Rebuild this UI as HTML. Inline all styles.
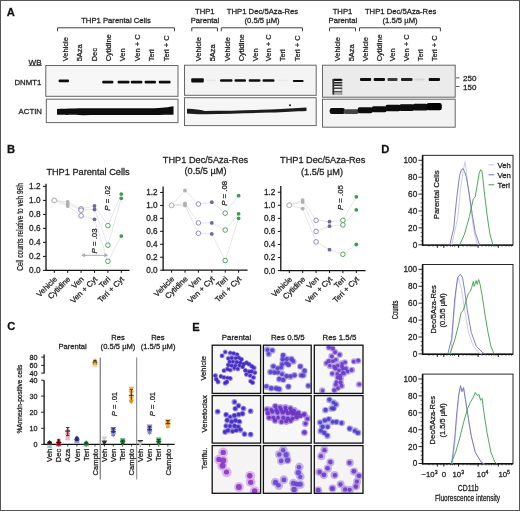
<!DOCTYPE html>
<html><head><meta charset="utf-8"><style>
html,body{margin:0;padding:0;background:#fff;}
svg{display:block;font-family:"Liberation Sans", sans-serif;will-change:transform;}
text{stroke:#2a2a2a;stroke-width:0.28px;paint-order:stroke;}
</style></head><body>
<svg width="520" height="511" viewBox="0 0 520 511">
<defs>
<filter id="bl" x="-20%" y="-50%" width="140%" height="200%"><feGaussianBlur stdDeviation="0.4"/></filter>
<filter id="mb" x="-50%" y="-50%" width="200%" height="200%"><feGaussianBlur stdDeviation="0.3"/></filter>
<filter id="cb" x="-50%" y="-50%" width="200%" height="200%"><feGaussianBlur stdDeviation="0.35"/></filter>
</defs>
<rect width="520" height="511" fill="#fff"/>
<rect x="0.50" y="0.50" width="519.00" height="510.00" fill="none" stroke="#555" stroke-width="1"/>
<text x="6.80" y="16.00" font-size="11.2" text-anchor="start" font-weight="bold" fill="#111">A</text>
<text x="116.00" y="23.00" font-size="7.7" text-anchor="middle" font-weight="normal" fill="#222">THP1 Parental Cells</text>
<polyline points="57.50,31.30 57.50,27.80 174.50,27.80 174.50,31.30" fill="none" stroke="#444" stroke-width="1" stroke-linejoin="round"/>
<text x="204.80" y="13.80" font-size="7.7" text-anchor="middle" font-weight="normal" fill="#222">THP1</text>
<text x="205.00" y="23.00" font-size="7.7" text-anchor="middle" font-weight="normal" fill="#222">Parental</text>
<polyline points="191.80,31.30 191.80,27.80 217.50,27.80 217.50,31.30" fill="none" stroke="#444" stroke-width="1" stroke-linejoin="round"/>
<text x="262.50" y="13.80" font-size="7.7" text-anchor="middle" font-weight="normal" fill="#222">THP1 Dec/5Aza-Res</text>
<text x="262.00" y="23.00" font-size="7.7" text-anchor="middle" font-weight="normal" fill="#222">(0.5/5 µM)</text>
<polyline points="221.30,31.30 221.30,27.80 302.50,27.80 302.50,31.30" fill="none" stroke="#444" stroke-width="1" stroke-linejoin="round"/>
<text x="342.50" y="13.80" font-size="7.7" text-anchor="middle" font-weight="normal" fill="#222">THP1</text>
<text x="342.90" y="23.00" font-size="7.7" text-anchor="middle" font-weight="normal" fill="#222">Parental</text>
<polyline points="329.50,31.30 329.50,27.80 355.50,27.80 355.50,31.30" fill="none" stroke="#444" stroke-width="1" stroke-linejoin="round"/>
<text x="400.60" y="13.80" font-size="7.7" text-anchor="middle" font-weight="normal" fill="#222">THP1 Dec/5Aza-Res</text>
<text x="400.00" y="23.00" font-size="7.7" text-anchor="middle" font-weight="normal" fill="#222">(1.5/5 µM)</text>
<polyline points="359.50,31.30 359.50,27.80 440.40,27.80 440.40,31.30" fill="none" stroke="#444" stroke-width="1" stroke-linejoin="round"/>
<text x="0.00" y="0.00" font-size="7.5" text-anchor="start" font-weight="normal" fill="#222" transform="translate(67.70,61.30) rotate(-90)">Vehicle</text>
<text x="0.00" y="0.00" font-size="7.5" text-anchor="start" font-weight="normal" fill="#222" transform="translate(82.10,61.30) rotate(-90)">5Aza</text>
<text x="0.00" y="0.00" font-size="7.5" text-anchor="start" font-weight="normal" fill="#222" transform="translate(96.50,61.30) rotate(-90)">Dec</text>
<text x="0.00" y="0.00" font-size="7.5" text-anchor="start" font-weight="normal" fill="#222" transform="translate(110.90,61.30) rotate(-90)">Cytidine</text>
<text x="0.00" y="0.00" font-size="7.5" text-anchor="start" font-weight="normal" fill="#222" transform="translate(125.30,61.30) rotate(-90)">Ven</text>
<text x="0.00" y="0.00" font-size="7.5" text-anchor="start" font-weight="normal" fill="#222" transform="translate(139.70,61.30) rotate(-90)">Ven + C</text>
<text x="0.00" y="0.00" font-size="7.5" text-anchor="start" font-weight="normal" fill="#222" transform="translate(154.10,61.30) rotate(-90)">Teri</text>
<text x="0.00" y="0.00" font-size="7.5" text-anchor="start" font-weight="normal" fill="#222" transform="translate(168.50,61.30) rotate(-90)">Teri + C</text>
<text x="0.00" y="0.00" font-size="7.5" text-anchor="start" font-weight="normal" fill="#222" transform="translate(201.45,61.30) rotate(-90)">Vehicle</text>
<text x="0.00" y="0.00" font-size="7.5" text-anchor="start" font-weight="normal" fill="#222" transform="translate(215.20,61.30) rotate(-90)">5Aza</text>
<text x="0.00" y="0.00" font-size="7.5" text-anchor="start" font-weight="normal" fill="#222" transform="translate(229.70,61.30) rotate(-90)">Vehicle</text>
<text x="0.00" y="0.00" font-size="7.5" text-anchor="start" font-weight="normal" fill="#222" transform="translate(243.95,61.30) rotate(-90)">Cytidine</text>
<text x="0.00" y="0.00" font-size="7.5" text-anchor="start" font-weight="normal" fill="#222" transform="translate(257.70,61.30) rotate(-90)">Ven</text>
<text x="0.00" y="0.00" font-size="7.5" text-anchor="start" font-weight="normal" fill="#222" transform="translate(270.70,61.30) rotate(-90)">Ven + C</text>
<text x="0.00" y="0.00" font-size="7.5" text-anchor="start" font-weight="normal" fill="#222" transform="translate(285.20,61.30) rotate(-90)">Teri</text>
<text x="0.00" y="0.00" font-size="7.5" text-anchor="start" font-weight="normal" fill="#222" transform="translate(299.70,61.30) rotate(-90)">Teri + C</text>
<text x="0.00" y="0.00" font-size="7.5" text-anchor="start" font-weight="normal" fill="#222" transform="translate(339.70,61.30) rotate(-90)">Vehicle</text>
<text x="0.00" y="0.00" font-size="7.5" text-anchor="start" font-weight="normal" fill="#222" transform="translate(353.95,61.30) rotate(-90)">5Aza</text>
<text x="0.00" y="0.00" font-size="7.5" text-anchor="start" font-weight="normal" fill="#222" transform="translate(368.20,61.30) rotate(-90)">Vehicle</text>
<text x="0.00" y="0.00" font-size="7.5" text-anchor="start" font-weight="normal" fill="#222" transform="translate(382.20,61.30) rotate(-90)">Cytidine</text>
<text x="0.00" y="0.00" font-size="7.5" text-anchor="start" font-weight="normal" fill="#222" transform="translate(395.20,61.30) rotate(-90)">Ven</text>
<text x="0.00" y="0.00" font-size="7.5" text-anchor="start" font-weight="normal" fill="#222" transform="translate(408.95,61.30) rotate(-90)">Ven + C</text>
<text x="0.00" y="0.00" font-size="7.5" text-anchor="start" font-weight="normal" fill="#222" transform="translate(423.20,61.30) rotate(-90)">Teri</text>
<text x="0.00" y="0.00" font-size="7.5" text-anchor="start" font-weight="normal" fill="#222" transform="translate(436.95,61.30) rotate(-90)">Teri + C</text>
<text x="28.60" y="65.00" font-size="8.1" text-anchor="start" font-weight="normal" fill="#222">WB</text>
<line x1="28.60" y1="65.60" x2="42.00" y2="65.60" stroke="#333" stroke-width="0.8"/>
<text x="41.30" y="84.50" font-size="7.8" text-anchor="end" font-weight="normal" fill="#222">DNMT1</text>
<text x="42.00" y="114.30" font-size="7.8" text-anchor="end" font-weight="normal" fill="#222">ACTIN</text>
<rect x="45.80" y="65.50" width="132.20" height="30.80" fill="#f7f7f7" stroke="#666" stroke-width="1"/>
<rect x="46.30" y="99.20" width="131.70" height="23.40" fill="#fafafa" stroke="#666" stroke-width="1"/>
<rect x="184.50" y="65.20" width="131.70" height="30.10" fill="#f4f4f4" stroke="#666" stroke-width="1"/>
<rect x="184.50" y="97.70" width="131.70" height="27.90" fill="#f6f6f6" stroke="#666" stroke-width="1"/>
<rect x="322.50" y="65.20" width="132.70" height="32.00" fill="#ebebeb" stroke="#666" stroke-width="1"/>
<rect x="322.50" y="99.20" width="132.70" height="28.00" fill="#f3f3f3" stroke="#666" stroke-width="1"/>
<rect x="58.60" y="79.60" width="10.40" height="2.70" rx="1" fill="#111" opacity="1.0" filter="url(#bl)"/>
<rect x="102.20" y="80.80" width="11.20" height="2.60" rx="1" fill="#111" opacity="1.0" filter="url(#bl)"/>
<rect x="117.60" y="80.80" width="11.90" height="2.60" rx="1" fill="#111" opacity="1.0" filter="url(#bl)"/>
<rect x="130.80" y="80.80" width="11.60" height="2.60" rx="1" fill="#111" opacity="1.0" filter="url(#bl)"/>
<rect x="144.60" y="80.80" width="11.40" height="2.60" rx="1" fill="#111" opacity="1.0" filter="url(#bl)"/>
<rect x="158.80" y="80.80" width="11.80" height="2.60" rx="1" fill="#111" opacity="1.0" filter="url(#bl)"/>
<path d="M57,109 C80,107.5 120,108.5 150,108.3 C162,108 170,107 173.5,106.2 L173.5,114.8 C160,115 130,115.2 100,115 C80,115.3 65,115 57,114.8 Z" fill="#0a0a0a" filter="url(#bl)"/>
<rect x="191.20" y="78.20" width="12.60" height="4.20" rx="1" fill="#0a0a0a" opacity="1.0" filter="url(#bl)"/>
<rect x="206.00" y="79.80" width="10.00" height="1.40" rx="1" fill="#bbb" opacity="0.25" filter="url(#bl)"/>
<rect x="220.00" y="79.20" width="12.50" height="2.50" rx="1" fill="#111" opacity="1.0" filter="url(#bl)"/>
<rect x="234.50" y="79.20" width="11.50" height="2.50" rx="1" fill="#111" opacity="1.0" filter="url(#bl)"/>
<rect x="248.70" y="79.20" width="11.80" height="2.50" rx="1" fill="#111" opacity="1.0" filter="url(#bl)"/>
<rect x="262.50" y="79.20" width="12.00" height="2.50" rx="1" fill="#111" opacity="1.0" filter="url(#bl)"/>
<rect x="278.00" y="79.80" width="10.00" height="1.40" rx="1" fill="#bbb" opacity="0.2" filter="url(#bl)"/>
<rect x="292.80" y="80.10" width="10.80" height="1.90" rx="1" fill="#111" opacity="1.0" filter="url(#bl)"/>
<path d="M187,108.8 C193,108.6 199,109.6 205,111 C225,110.8 250,110.3 270,109.6 C285,109 295,108.2 306.5,107.6 L306.5,110.9 C295,111.3 285,111.9 270,112.6 C250,113.2 225,113.8 205,114.3 C198,114.4 192,114 187,113.6 Z" fill="#1a1a1a" filter="url(#bl)"/>
<circle cx="290" cy="105.3" r="1" fill="#111"/>
<rect x="332.6" y="78.8" width="9.8" height="2.20" rx="1.5" fill="#0a0a0a" filter="url(#bl)"/>
<rect x="332.6" y="81.9" width="9.8" height="1.50" rx="1.5" fill="#1a1a1a" filter="url(#bl)"/>
<rect x="332.6" y="84.4" width="9.8" height="1.50" rx="1.5" fill="#2a2a2a" filter="url(#bl)"/>
<rect x="332.6" y="87.4" width="9.8" height="1.50" rx="1.5" fill="#444" filter="url(#bl)"/>
<rect x="332.6" y="91.0" width="9.8" height="1.50" rx="1.5" fill="#555" filter="url(#bl)"/>
<rect x="332.6" y="93.5" width="9.8" height="1.10" rx="1.5" fill="#777" filter="url(#bl)"/>
<rect x="332.4" y="79" width="1.8" height="15.5" fill="#333" filter="url(#bl)"/>
<rect x="340.8" y="79" width="1.6" height="15.5" fill="#555" opacity="0.35" filter="url(#bl)"/>
<rect x="360.00" y="78.10" width="11.20" height="2.80" rx="1" fill="#0a0a0a" opacity="1" filter="url(#bl)"/>
<rect x="373.70" y="78.10" width="11.30" height="2.80" rx="1" fill="#0a0a0a" opacity="1" filter="url(#bl)"/>
<rect x="387.50" y="78.10" width="10.00" height="2.80" rx="1" fill="#0a0a0a" opacity="0.8" filter="url(#bl)"/>
<rect x="401.00" y="78.10" width="11.50" height="2.80" rx="1" fill="#0a0a0a" opacity="0.9" filter="url(#bl)"/>
<rect x="428.70" y="78.10" width="11.30" height="2.80" rx="1" fill="#0a0a0a" opacity="1" filter="url(#bl)"/>
<rect x="414.50" y="78.40" width="10.00" height="2.00" rx="1" fill="#aaa" opacity="0.35" filter="url(#bl)"/>
<rect x="329.70" y="108.00" width="15.2" height="6.00" rx="2.2" fill="#080808" filter="url(#bl)"/>
<rect x="343.60" y="109.30" width="15.2" height="4.60" rx="2.2" fill="#444" filter="url(#bl)"/>
<rect x="357.60" y="107.30" width="15.2" height="6.00" rx="2.2" fill="#0a0a0a" filter="url(#bl)"/>
<rect x="371.60" y="106.30" width="15.2" height="6.00" rx="2.2" fill="#0a0a0a" filter="url(#bl)"/>
<rect x="385.40" y="104.80" width="15.2" height="6.40" rx="2.2" fill="#080808" filter="url(#bl)"/>
<rect x="399.00" y="104.30" width="15.2" height="6.60" rx="2.2" fill="#080808" filter="url(#bl)"/>
<rect x="412.80" y="103.80" width="15.2" height="6.80" rx="2.2" fill="#080808" filter="url(#bl)"/>
<rect x="426.60" y="103.00" width="15.2" height="7.20" rx="2.2" fill="#050505" filter="url(#bl)"/>
<line x1="456.00" y1="77.90" x2="459.50" y2="77.90" stroke="#333" stroke-width="0.8"/>
<line x1="456.00" y1="86.50" x2="459.50" y2="86.50" stroke="#333" stroke-width="0.8"/>
<text x="463.00" y="80.80" font-size="8" text-anchor="start" font-weight="normal" fill="#222">250</text>
<text x="463.00" y="89.60" font-size="8" text-anchor="start" font-weight="normal" fill="#222">150</text>
<text x="7.00" y="152.50" font-size="11.2" text-anchor="start" font-weight="bold" fill="#111">B</text>
<text x="88.00" y="175.00" font-size="9.2" text-anchor="middle" font-weight="normal" fill="#222">THP1 Parental Cells</text>
<line x1="46.00" y1="183.70" x2="46.00" y2="270.90" stroke="#111" stroke-width="1.3"/>
<line x1="45.40" y1="270.40" x2="129.60" y2="270.40" stroke="#111" stroke-width="1.3"/>
<line x1="43.00" y1="270.40" x2="46.00" y2="270.40" stroke="#111" stroke-width="1"/>
<text x="40.50" y="273.30" font-size="8.2" text-anchor="end" font-weight="normal" fill="#222">0.0</text>
<line x1="43.00" y1="256.40" x2="46.00" y2="256.40" stroke="#111" stroke-width="1"/>
<text x="40.50" y="259.30" font-size="8.2" text-anchor="end" font-weight="normal" fill="#222">0.2</text>
<line x1="43.00" y1="242.40" x2="46.00" y2="242.40" stroke="#111" stroke-width="1"/>
<text x="40.50" y="245.30" font-size="8.2" text-anchor="end" font-weight="normal" fill="#222">0.4</text>
<line x1="43.00" y1="228.40" x2="46.00" y2="228.40" stroke="#111" stroke-width="1"/>
<text x="40.50" y="231.30" font-size="8.2" text-anchor="end" font-weight="normal" fill="#222">0.6</text>
<line x1="43.00" y1="214.40" x2="46.00" y2="214.40" stroke="#111" stroke-width="1"/>
<text x="40.50" y="217.30" font-size="8.2" text-anchor="end" font-weight="normal" fill="#222">0.8</text>
<line x1="43.00" y1="200.40" x2="46.00" y2="200.40" stroke="#111" stroke-width="1"/>
<text x="40.50" y="203.30" font-size="8.2" text-anchor="end" font-weight="normal" fill="#222">1.0</text>
<line x1="43.00" y1="186.40" x2="46.00" y2="186.40" stroke="#111" stroke-width="1"/>
<text x="40.50" y="189.30" font-size="8.2" text-anchor="end" font-weight="normal" fill="#222">1.2</text>
<line x1="54.30" y1="270.40" x2="54.30" y2="272.90" stroke="#111" stroke-width="1"/>
<line x1="67.70" y1="270.40" x2="67.70" y2="272.90" stroke="#111" stroke-width="1"/>
<line x1="81.10" y1="270.40" x2="81.10" y2="272.90" stroke="#111" stroke-width="1"/>
<line x1="94.50" y1="270.40" x2="94.50" y2="272.90" stroke="#111" stroke-width="1"/>
<line x1="107.90" y1="270.40" x2="107.90" y2="272.90" stroke="#111" stroke-width="1"/>
<line x1="121.30" y1="270.40" x2="121.30" y2="272.90" stroke="#111" stroke-width="1"/>
<text x="0.00" y="0.00" font-size="7.8" text-anchor="end" font-weight="normal" fill="#222" transform="translate(57.50,279.60) rotate(-45)">Vehicle</text>
<text x="0.00" y="0.00" font-size="7.8" text-anchor="end" font-weight="normal" fill="#222" transform="translate(70.90,279.60) rotate(-45)">Cytidine</text>
<text x="0.00" y="0.00" font-size="7.8" text-anchor="end" font-weight="normal" fill="#222" transform="translate(84.30,279.60) rotate(-45)">Ven</text>
<text x="0.00" y="0.00" font-size="7.8" text-anchor="end" font-weight="normal" fill="#222" transform="translate(97.70,279.60) rotate(-45)">Ven + Cyt</text>
<text x="0.00" y="0.00" font-size="7.8" text-anchor="end" font-weight="normal" fill="#222" transform="translate(111.10,279.60) rotate(-45)">Teri</text>
<text x="0.00" y="0.00" font-size="7.8" text-anchor="end" font-weight="normal" fill="#222" transform="translate(124.50,279.60) rotate(-45)">Teri + Cyt</text>
<polyline points="54.30,200.40 67.70,201.80 81.10,208.80 94.50,206.00 107.90,225.60 121.30,194.10" fill="none" stroke="#dcd8e4" stroke-width="0.7" stroke-linejoin="round"/>
<polyline points="54.30,200.40 67.70,203.90 81.10,210.20 94.50,209.50 107.90,245.20 121.30,198.30" fill="none" stroke="#dcd8e4" stroke-width="0.7" stroke-linejoin="round"/>
<polyline points="54.30,200.40 67.70,206.00 81.10,215.80 94.50,219.30 107.90,261.30 121.30,236.10" fill="none" stroke="#dcd8e4" stroke-width="0.7" stroke-linejoin="round"/>
<circle cx="54.30" cy="200.40" r="2.3" fill="#fff" stroke="#b0b0b0" stroke-width="0.9"/>
<circle cx="54.30" cy="200.40" r="2.3" fill="#fff" stroke="#b0b0b0" stroke-width="0.9"/>
<circle cx="54.30" cy="200.40" r="2.3" fill="#fff" stroke="#b0b0b0" stroke-width="0.9"/>
<circle cx="67.70" cy="201.80" r="1.9" fill="#b0b0b0"/>
<circle cx="67.70" cy="203.90" r="1.9" fill="#b0b0b0"/>
<circle cx="67.70" cy="206.00" r="1.9" fill="#b0b0b0"/>
<circle cx="81.10" cy="208.80" r="2.3" fill="#fff" stroke="#8282c0" stroke-width="0.9"/>
<circle cx="81.10" cy="210.20" r="2.3" fill="#fff" stroke="#8282c0" stroke-width="0.9"/>
<circle cx="81.10" cy="215.80" r="2.3" fill="#fff" stroke="#8282c0" stroke-width="0.9"/>
<circle cx="94.50" cy="206.00" r="1.9" fill="#6a6a9e"/>
<circle cx="94.50" cy="209.50" r="1.9" fill="#6a6a9e"/>
<circle cx="94.50" cy="219.30" r="1.9" fill="#6a6a9e"/>
<circle cx="107.90" cy="225.60" r="2.3" fill="#fff" stroke="#3c9c50" stroke-width="0.9"/>
<circle cx="107.90" cy="245.20" r="2.3" fill="#fff" stroke="#3c9c50" stroke-width="0.9"/>
<circle cx="107.90" cy="261.30" r="2.3" fill="#fff" stroke="#3c9c50" stroke-width="0.9"/>
<circle cx="121.30" cy="194.10" r="1.9" fill="#3c9c50"/>
<circle cx="121.30" cy="198.30" r="1.9" fill="#3c9c50"/>
<circle cx="121.30" cy="236.10" r="1.9" fill="#3c9c50"/>
<text x="0.00" y="0.00" font-size="8.5" text-anchor="start" font-weight="normal" fill="#222" transform="translate(22.60,270.80) rotate(-90) scale(0.77,1)">Cell counts relative to veh 96h</text>
<line x1="83.00" y1="255.30" x2="106.50" y2="255.30" stroke="#aaa" stroke-width="1"/>
<path d="M81.2,255.3 L85,253.3 L85,257.3 Z" fill="#aaa"/>
<path d="M108.2,255.3 L104.4,253.3 L104.4,257.3 Z" fill="#aaa"/>
<text transform="translate(110.40,210.70) rotate(-90)" font-size="7.8" fill="#222"><tspan font-style="italic">P</tspan> = .02</text>
<text transform="translate(97.00,253.40) rotate(-90)" font-size="7.8" fill="#222"><tspan font-style="italic">P</tspan> = .03</text>
<text x="205.50" y="163.20" font-size="9.2" text-anchor="middle" font-weight="normal" fill="#222">THP1 Dec/5Aza-Res</text>
<text x="205.50" y="174.30" font-size="9.2" text-anchor="middle" font-weight="normal" fill="#222">(0.5/5 µM)</text>
<line x1="163.10" y1="186.50" x2="163.10" y2="270.70" stroke="#111" stroke-width="1.3"/>
<line x1="162.50" y1="270.20" x2="247.60" y2="270.20" stroke="#111" stroke-width="1.3"/>
<line x1="160.10" y1="270.20" x2="163.10" y2="270.20" stroke="#111" stroke-width="1"/>
<text x="157.60" y="273.10" font-size="8.2" text-anchor="end" font-weight="normal" fill="#222">0.0</text>
<line x1="160.10" y1="257.24" x2="163.10" y2="257.24" stroke="#111" stroke-width="1"/>
<text x="157.60" y="260.14" font-size="8.2" text-anchor="end" font-weight="normal" fill="#222">0.2</text>
<line x1="160.10" y1="244.28" x2="163.10" y2="244.28" stroke="#111" stroke-width="1"/>
<text x="157.60" y="247.18" font-size="8.2" text-anchor="end" font-weight="normal" fill="#222">0.4</text>
<line x1="160.10" y1="231.32" x2="163.10" y2="231.32" stroke="#111" stroke-width="1"/>
<text x="157.60" y="234.22" font-size="8.2" text-anchor="end" font-weight="normal" fill="#222">0.6</text>
<line x1="160.10" y1="218.36" x2="163.10" y2="218.36" stroke="#111" stroke-width="1"/>
<text x="157.60" y="221.26" font-size="8.2" text-anchor="end" font-weight="normal" fill="#222">0.8</text>
<line x1="160.10" y1="205.40" x2="163.10" y2="205.40" stroke="#111" stroke-width="1"/>
<text x="157.60" y="208.30" font-size="8.2" text-anchor="end" font-weight="normal" fill="#222">1.0</text>
<line x1="160.10" y1="192.44" x2="163.10" y2="192.44" stroke="#111" stroke-width="1"/>
<text x="157.60" y="195.34" font-size="8.2" text-anchor="end" font-weight="normal" fill="#222">1.2</text>
<line x1="171.60" y1="270.20" x2="171.60" y2="272.70" stroke="#111" stroke-width="1"/>
<line x1="185.00" y1="270.20" x2="185.00" y2="272.70" stroke="#111" stroke-width="1"/>
<line x1="198.40" y1="270.20" x2="198.40" y2="272.70" stroke="#111" stroke-width="1"/>
<line x1="211.80" y1="270.20" x2="211.80" y2="272.70" stroke="#111" stroke-width="1"/>
<line x1="225.20" y1="270.20" x2="225.20" y2="272.70" stroke="#111" stroke-width="1"/>
<line x1="238.60" y1="270.20" x2="238.60" y2="272.70" stroke="#111" stroke-width="1"/>
<text x="0.00" y="0.00" font-size="7.8" text-anchor="end" font-weight="normal" fill="#222" transform="translate(174.80,279.40) rotate(-45)">Vehicle</text>
<text x="0.00" y="0.00" font-size="7.8" text-anchor="end" font-weight="normal" fill="#222" transform="translate(188.20,279.40) rotate(-45)">Cytidine</text>
<text x="0.00" y="0.00" font-size="7.8" text-anchor="end" font-weight="normal" fill="#222" transform="translate(201.60,279.40) rotate(-45)">Ven</text>
<text x="0.00" y="0.00" font-size="7.8" text-anchor="end" font-weight="normal" fill="#222" transform="translate(215.00,279.40) rotate(-45)">Ven + Cyt</text>
<text x="0.00" y="0.00" font-size="7.8" text-anchor="end" font-weight="normal" fill="#222" transform="translate(228.40,279.40) rotate(-45)">Teri</text>
<text x="0.00" y="0.00" font-size="7.8" text-anchor="end" font-weight="normal" fill="#222" transform="translate(241.80,279.40) rotate(-45)">Teri + Cyt</text>
<polyline points="171.60,205.40 185.00,190.50 198.40,204.10 211.80,202.16 225.20,213.18 238.60,195.68" fill="none" stroke="#dcd8e4" stroke-width="0.7" stroke-linejoin="round"/>
<polyline points="171.60,205.40 185.00,203.46 198.40,222.90 211.80,222.90 225.20,230.02 238.60,213.82" fill="none" stroke="#dcd8e4" stroke-width="0.7" stroke-linejoin="round"/>
<polyline points="171.60,205.40 185.00,205.40 198.40,233.26 211.80,233.91 225.20,260.48 238.60,218.36" fill="none" stroke="#dcd8e4" stroke-width="0.7" stroke-linejoin="round"/>
<circle cx="171.60" cy="205.40" r="2.3" fill="#fff" stroke="#b0b0b0" stroke-width="0.9"/>
<circle cx="171.60" cy="205.40" r="2.3" fill="#fff" stroke="#b0b0b0" stroke-width="0.9"/>
<circle cx="171.60" cy="205.40" r="2.3" fill="#fff" stroke="#b0b0b0" stroke-width="0.9"/>
<circle cx="185.00" cy="190.50" r="1.9" fill="#b0b0b0"/>
<circle cx="185.00" cy="203.46" r="1.9" fill="#b0b0b0"/>
<circle cx="185.00" cy="205.40" r="1.9" fill="#b0b0b0"/>
<circle cx="198.40" cy="204.10" r="2.3" fill="#fff" stroke="#8282c0" stroke-width="0.9"/>
<circle cx="198.40" cy="222.90" r="2.3" fill="#fff" stroke="#8282c0" stroke-width="0.9"/>
<circle cx="198.40" cy="233.26" r="2.3" fill="#fff" stroke="#8282c0" stroke-width="0.9"/>
<circle cx="211.80" cy="202.16" r="1.9" fill="#6a6a9e"/>
<circle cx="211.80" cy="222.90" r="1.9" fill="#6a6a9e"/>
<circle cx="211.80" cy="233.91" r="1.9" fill="#6a6a9e"/>
<circle cx="225.20" cy="213.18" r="2.3" fill="#fff" stroke="#3c9c50" stroke-width="0.9"/>
<circle cx="225.20" cy="230.02" r="2.3" fill="#fff" stroke="#3c9c50" stroke-width="0.9"/>
<circle cx="225.20" cy="260.48" r="2.3" fill="#fff" stroke="#3c9c50" stroke-width="0.9"/>
<circle cx="238.60" cy="195.68" r="1.9" fill="#3c9c50"/>
<circle cx="238.60" cy="213.82" r="1.9" fill="#3c9c50"/>
<circle cx="238.60" cy="218.36" r="1.9" fill="#3c9c50"/>
<text transform="translate(227.30,205.80) rotate(-90)" font-size="7.8" fill="#222"><tspan font-style="italic">P</tspan> = .08</text>
<text x="322.70" y="163.20" font-size="9.2" text-anchor="middle" font-weight="normal" fill="#222">THP1 Dec/5Aza-Res</text>
<text x="322.00" y="174.50" font-size="9.2" text-anchor="middle" font-weight="normal" fill="#222">(1.5/5 µM)</text>
<line x1="280.80" y1="186.00" x2="280.80" y2="271.10" stroke="#111" stroke-width="1.3"/>
<line x1="280.20" y1="270.60" x2="365.60" y2="270.60" stroke="#111" stroke-width="1.3"/>
<line x1="277.80" y1="270.60" x2="280.80" y2="270.60" stroke="#111" stroke-width="1"/>
<text x="275.30" y="273.50" font-size="8.2" text-anchor="end" font-weight="normal" fill="#222">0.0</text>
<line x1="277.80" y1="257.54" x2="280.80" y2="257.54" stroke="#111" stroke-width="1"/>
<text x="275.30" y="260.44" font-size="8.2" text-anchor="end" font-weight="normal" fill="#222">0.2</text>
<line x1="277.80" y1="244.48" x2="280.80" y2="244.48" stroke="#111" stroke-width="1"/>
<text x="275.30" y="247.38" font-size="8.2" text-anchor="end" font-weight="normal" fill="#222">0.4</text>
<line x1="277.80" y1="231.42" x2="280.80" y2="231.42" stroke="#111" stroke-width="1"/>
<text x="275.30" y="234.32" font-size="8.2" text-anchor="end" font-weight="normal" fill="#222">0.6</text>
<line x1="277.80" y1="218.36" x2="280.80" y2="218.36" stroke="#111" stroke-width="1"/>
<text x="275.30" y="221.26" font-size="8.2" text-anchor="end" font-weight="normal" fill="#222">0.8</text>
<line x1="277.80" y1="205.30" x2="280.80" y2="205.30" stroke="#111" stroke-width="1"/>
<text x="275.30" y="208.20" font-size="8.2" text-anchor="end" font-weight="normal" fill="#222">1.0</text>
<line x1="277.80" y1="192.24" x2="280.80" y2="192.24" stroke="#111" stroke-width="1"/>
<text x="275.30" y="195.14" font-size="8.2" text-anchor="end" font-weight="normal" fill="#222">1.2</text>
<line x1="289.30" y1="270.60" x2="289.30" y2="273.10" stroke="#111" stroke-width="1"/>
<line x1="302.70" y1="270.60" x2="302.70" y2="273.10" stroke="#111" stroke-width="1"/>
<line x1="316.10" y1="270.60" x2="316.10" y2="273.10" stroke="#111" stroke-width="1"/>
<line x1="329.50" y1="270.60" x2="329.50" y2="273.10" stroke="#111" stroke-width="1"/>
<line x1="342.90" y1="270.60" x2="342.90" y2="273.10" stroke="#111" stroke-width="1"/>
<line x1="356.30" y1="270.60" x2="356.30" y2="273.10" stroke="#111" stroke-width="1"/>
<text x="0.00" y="0.00" font-size="7.8" text-anchor="end" font-weight="normal" fill="#222" transform="translate(292.50,279.80) rotate(-45)">Vehicle</text>
<text x="0.00" y="0.00" font-size="7.8" text-anchor="end" font-weight="normal" fill="#222" transform="translate(305.90,279.80) rotate(-45)">Cytidine</text>
<text x="0.00" y="0.00" font-size="7.8" text-anchor="end" font-weight="normal" fill="#222" transform="translate(319.30,279.80) rotate(-45)">Ven</text>
<text x="0.00" y="0.00" font-size="7.8" text-anchor="end" font-weight="normal" fill="#222" transform="translate(332.70,279.80) rotate(-45)">Ven + Cyt</text>
<text x="0.00" y="0.00" font-size="7.8" text-anchor="end" font-weight="normal" fill="#222" transform="translate(346.10,279.80) rotate(-45)">Teri</text>
<text x="0.00" y="0.00" font-size="7.8" text-anchor="end" font-weight="normal" fill="#222" transform="translate(359.50,279.80) rotate(-45)">Teri + Cyt</text>
<polyline points="289.30,205.30 302.70,200.08 316.10,220.32 329.50,221.63 342.90,220.32 356.30,196.81" fill="none" stroke="#dcd8e4" stroke-width="0.7" stroke-linejoin="round"/>
<polyline points="289.30,205.30 302.70,202.04 316.10,231.42 329.50,226.20 342.90,224.89 356.30,209.87" fill="none" stroke="#dcd8e4" stroke-width="0.7" stroke-linejoin="round"/>
<polyline points="289.30,205.30 302.70,208.57 316.10,241.87 329.50,249.70 342.90,254.28 356.30,244.48" fill="none" stroke="#dcd8e4" stroke-width="0.7" stroke-linejoin="round"/>
<circle cx="289.30" cy="205.30" r="2.3" fill="#fff" stroke="#b0b0b0" stroke-width="0.9"/>
<circle cx="289.30" cy="205.30" r="2.3" fill="#fff" stroke="#b0b0b0" stroke-width="0.9"/>
<circle cx="289.30" cy="205.30" r="2.3" fill="#fff" stroke="#b0b0b0" stroke-width="0.9"/>
<circle cx="302.70" cy="200.08" r="1.9" fill="#b0b0b0"/>
<circle cx="302.70" cy="202.04" r="1.9" fill="#b0b0b0"/>
<circle cx="302.70" cy="208.57" r="1.9" fill="#b0b0b0"/>
<circle cx="316.10" cy="220.32" r="2.3" fill="#fff" stroke="#8282c0" stroke-width="0.9"/>
<circle cx="316.10" cy="231.42" r="2.3" fill="#fff" stroke="#8282c0" stroke-width="0.9"/>
<circle cx="316.10" cy="241.87" r="2.3" fill="#fff" stroke="#8282c0" stroke-width="0.9"/>
<circle cx="329.50" cy="221.63" r="1.9" fill="#6a6a9e"/>
<circle cx="329.50" cy="226.20" r="1.9" fill="#6a6a9e"/>
<circle cx="329.50" cy="249.70" r="1.9" fill="#6a6a9e"/>
<circle cx="342.90" cy="220.32" r="2.3" fill="#fff" stroke="#3c9c50" stroke-width="0.9"/>
<circle cx="342.90" cy="224.89" r="2.3" fill="#fff" stroke="#3c9c50" stroke-width="0.9"/>
<circle cx="342.90" cy="254.28" r="2.3" fill="#fff" stroke="#3c9c50" stroke-width="0.9"/>
<circle cx="356.30" cy="196.81" r="1.9" fill="#3c9c50"/>
<circle cx="356.30" cy="209.87" r="1.9" fill="#3c9c50"/>
<circle cx="356.30" cy="244.48" r="1.9" fill="#3c9c50"/>
<text transform="translate(342.90,210.00) rotate(-90)" font-size="7.8" fill="#222"><tspan font-style="italic">P</tspan> = .05</text>
<text x="381.30" y="152.70" font-size="11.2" text-anchor="start" font-weight="bold" fill="#111">D</text>
<rect x="422.60" y="155.30" width="90.40" height="89.80" fill="none" stroke="#111" stroke-width="0.9"/>
<line x1="422.60" y1="155.30" x2="422.60" y2="245.70" stroke="#111" stroke-width="1.6"/>
<line x1="422.00" y1="245.10" x2="513.00" y2="245.10" stroke="#111" stroke-width="1.4"/>
<line x1="418.50" y1="244.80" x2="422.60" y2="244.80" stroke="#111" stroke-width="0.9"/>
<text x="417.20" y="247.70" font-size="8.2" text-anchor="end" font-weight="normal" fill="#222">0</text>
<line x1="418.50" y1="227.90" x2="422.60" y2="227.90" stroke="#111" stroke-width="0.9"/>
<text x="417.20" y="230.80" font-size="8.2" text-anchor="end" font-weight="normal" fill="#222">20</text>
<line x1="418.50" y1="211.00" x2="422.60" y2="211.00" stroke="#111" stroke-width="0.9"/>
<text x="417.20" y="213.90" font-size="8.2" text-anchor="end" font-weight="normal" fill="#222">40</text>
<line x1="418.50" y1="194.10" x2="422.60" y2="194.10" stroke="#111" stroke-width="0.9"/>
<text x="417.20" y="197.00" font-size="8.2" text-anchor="end" font-weight="normal" fill="#222">60</text>
<line x1="418.50" y1="177.20" x2="422.60" y2="177.20" stroke="#111" stroke-width="0.9"/>
<text x="417.20" y="180.10" font-size="8.2" text-anchor="end" font-weight="normal" fill="#222">80</text>
<line x1="418.50" y1="160.30" x2="422.60" y2="160.30" stroke="#111" stroke-width="0.9"/>
<text x="417.20" y="163.20" font-size="8.2" text-anchor="end" font-weight="normal" fill="#222">100</text>
<line x1="420.60" y1="240.88" x2="422.60" y2="240.88" stroke="#111" stroke-width="0.6"/>
<line x1="420.60" y1="236.65" x2="422.60" y2="236.65" stroke="#111" stroke-width="0.6"/>
<line x1="420.60" y1="232.42" x2="422.60" y2="232.42" stroke="#111" stroke-width="0.6"/>
<line x1="420.60" y1="223.97" x2="422.60" y2="223.97" stroke="#111" stroke-width="0.6"/>
<line x1="420.60" y1="219.75" x2="422.60" y2="219.75" stroke="#111" stroke-width="0.6"/>
<line x1="420.60" y1="215.53" x2="422.60" y2="215.53" stroke="#111" stroke-width="0.6"/>
<line x1="420.60" y1="207.07" x2="422.60" y2="207.07" stroke="#111" stroke-width="0.6"/>
<line x1="420.60" y1="202.85" x2="422.60" y2="202.85" stroke="#111" stroke-width="0.6"/>
<line x1="420.60" y1="198.62" x2="422.60" y2="198.62" stroke="#111" stroke-width="0.6"/>
<line x1="420.60" y1="190.18" x2="422.60" y2="190.18" stroke="#111" stroke-width="0.6"/>
<line x1="420.60" y1="185.95" x2="422.60" y2="185.95" stroke="#111" stroke-width="0.6"/>
<line x1="420.60" y1="181.72" x2="422.60" y2="181.72" stroke="#111" stroke-width="0.6"/>
<line x1="420.60" y1="173.27" x2="422.60" y2="173.27" stroke="#111" stroke-width="0.6"/>
<line x1="420.60" y1="169.05" x2="422.60" y2="169.05" stroke="#111" stroke-width="0.6"/>
<line x1="420.60" y1="164.82" x2="422.60" y2="164.82" stroke="#111" stroke-width="0.6"/>
<line x1="429.00" y1="245.10" x2="429.00" y2="246.70" stroke="#111" stroke-width="0.6"/>
<line x1="433.00" y1="245.10" x2="433.00" y2="246.70" stroke="#111" stroke-width="0.6"/>
<line x1="437.30" y1="245.10" x2="437.30" y2="246.70" stroke="#111" stroke-width="0.6"/>
<line x1="441.00" y1="245.10" x2="441.00" y2="246.70" stroke="#111" stroke-width="0.6"/>
<line x1="443.80" y1="245.10" x2="443.80" y2="246.70" stroke="#111" stroke-width="0.6"/>
<line x1="447.00" y1="245.10" x2="447.00" y2="246.70" stroke="#111" stroke-width="0.6"/>
<line x1="450.50" y1="245.10" x2="450.50" y2="246.70" stroke="#111" stroke-width="0.6"/>
<line x1="452.50" y1="245.10" x2="452.50" y2="246.70" stroke="#111" stroke-width="0.6"/>
<line x1="454.50" y1="245.10" x2="454.50" y2="246.70" stroke="#111" stroke-width="0.6"/>
<line x1="458.60" y1="245.10" x2="458.60" y2="246.70" stroke="#111" stroke-width="0.6"/>
<line x1="463.00" y1="245.10" x2="463.00" y2="246.70" stroke="#111" stroke-width="0.6"/>
<line x1="467.00" y1="245.10" x2="467.00" y2="246.70" stroke="#111" stroke-width="0.6"/>
<line x1="470.00" y1="245.10" x2="470.00" y2="246.70" stroke="#111" stroke-width="0.6"/>
<line x1="472.00" y1="245.10" x2="472.00" y2="246.70" stroke="#111" stroke-width="0.6"/>
<line x1="474.00" y1="245.10" x2="474.00" y2="246.70" stroke="#111" stroke-width="0.6"/>
<line x1="476.00" y1="245.10" x2="476.00" y2="246.70" stroke="#111" stroke-width="0.6"/>
<line x1="478.10" y1="245.10" x2="478.10" y2="246.70" stroke="#111" stroke-width="0.6"/>
<line x1="482.00" y1="245.10" x2="482.00" y2="246.70" stroke="#111" stroke-width="0.6"/>
<line x1="486.00" y1="245.10" x2="486.00" y2="246.70" stroke="#111" stroke-width="0.6"/>
<line x1="489.00" y1="245.10" x2="489.00" y2="246.70" stroke="#111" stroke-width="0.6"/>
<line x1="491.50" y1="245.10" x2="491.50" y2="246.70" stroke="#111" stroke-width="0.6"/>
<line x1="494.00" y1="245.10" x2="494.00" y2="246.70" stroke="#111" stroke-width="0.6"/>
<line x1="496.00" y1="245.10" x2="496.00" y2="246.70" stroke="#111" stroke-width="0.6"/>
<line x1="498.30" y1="245.10" x2="498.30" y2="246.70" stroke="#111" stroke-width="0.6"/>
<line x1="502.00" y1="245.10" x2="502.00" y2="246.70" stroke="#111" stroke-width="0.6"/>
<line x1="506.00" y1="245.10" x2="506.00" y2="246.70" stroke="#111" stroke-width="0.6"/>
<line x1="509.00" y1="245.10" x2="509.00" y2="246.70" stroke="#111" stroke-width="0.6"/>
<line x1="511.50" y1="245.10" x2="511.50" y2="246.70" stroke="#111" stroke-width="0.6"/>
<line x1="437.30" y1="245.10" x2="437.30" y2="247.90" stroke="#111" stroke-width="0.9"/>
<line x1="443.80" y1="245.10" x2="443.80" y2="247.90" stroke="#111" stroke-width="0.9"/>
<line x1="458.60" y1="245.10" x2="458.60" y2="247.90" stroke="#111" stroke-width="0.9"/>
<line x1="478.10" y1="245.10" x2="478.10" y2="247.90" stroke="#111" stroke-width="0.9"/>
<line x1="498.30" y1="245.10" x2="498.30" y2="247.90" stroke="#111" stroke-width="0.9"/>
<polyline points="451.70,245.00 457.60,218.50 460.50,189.10 463.10,171.50 465.00,161.70 466.40,171.50 468.40,189.10 471.30,212.60 474.20,232.20 477.20,243.90 479.00,245.00" fill="none" stroke="#c6c6e2" stroke-width="0.9" stroke-linejoin="round"/>
<polyline points="449.80,245.00 453.70,228.30 456.60,198.90 459.60,175.40 461.50,169.60 463.10,168.60 464.50,171.50 466.40,177.40 469.40,195.00 472.30,214.60 475.20,232.20 479.10,243.90 481.00,245.00" fill="none" stroke="#7070bc" stroke-width="0.9" stroke-linejoin="round"/>
<polyline points="459.60,245.00 464.50,234.10 469.40,216.50 473.30,198.90 475.20,197.00 477.20,185.20 479.10,173.50 480.70,169.60 482.10,171.50 484.00,189.10 487.00,214.60 489.90,234.10 492.80,244.50 494.00,245.00" fill="none" stroke="#3c9c48" stroke-width="0.9" stroke-linejoin="round"/>
<line x1="488.50" y1="164.80" x2="494.30" y2="164.80" stroke="#c6c6e2" stroke-width="1"/>
<text x="497.50" y="167.60" font-size="7.8" text-anchor="start" font-weight="normal" fill="#222">Veh</text>
<line x1="488.50" y1="174.80" x2="494.30" y2="174.80" stroke="#7070bc" stroke-width="1"/>
<text x="497.50" y="177.60" font-size="7.8" text-anchor="start" font-weight="normal" fill="#222">Ven</text>
<line x1="488.50" y1="184.80" x2="494.30" y2="184.80" stroke="#3c9c48" stroke-width="1"/>
<text x="497.50" y="187.60" font-size="7.8" text-anchor="start" font-weight="normal" fill="#222">Teri</text>
<text x="0.00" y="0.00" font-size="7.9" text-anchor="start" font-weight="normal" fill="#222" transform="translate(438.90,219.30) rotate(-90)">Parental Cells</text>
<rect x="422.60" y="264.50" width="90.40" height="89.70" fill="none" stroke="#111" stroke-width="0.9"/>
<line x1="422.60" y1="264.50" x2="422.60" y2="354.80" stroke="#111" stroke-width="1.6"/>
<line x1="422.00" y1="354.20" x2="513.00" y2="354.20" stroke="#111" stroke-width="1.4"/>
<line x1="418.50" y1="353.90" x2="422.60" y2="353.90" stroke="#111" stroke-width="0.9"/>
<text x="417.20" y="356.80" font-size="8.2" text-anchor="end" font-weight="normal" fill="#222">0</text>
<line x1="418.50" y1="337.00" x2="422.60" y2="337.00" stroke="#111" stroke-width="0.9"/>
<text x="417.20" y="339.90" font-size="8.2" text-anchor="end" font-weight="normal" fill="#222">20</text>
<line x1="418.50" y1="320.10" x2="422.60" y2="320.10" stroke="#111" stroke-width="0.9"/>
<text x="417.20" y="323.00" font-size="8.2" text-anchor="end" font-weight="normal" fill="#222">40</text>
<line x1="418.50" y1="303.20" x2="422.60" y2="303.20" stroke="#111" stroke-width="0.9"/>
<text x="417.20" y="306.10" font-size="8.2" text-anchor="end" font-weight="normal" fill="#222">60</text>
<line x1="418.50" y1="286.30" x2="422.60" y2="286.30" stroke="#111" stroke-width="0.9"/>
<text x="417.20" y="289.20" font-size="8.2" text-anchor="end" font-weight="normal" fill="#222">80</text>
<line x1="418.50" y1="269.40" x2="422.60" y2="269.40" stroke="#111" stroke-width="0.9"/>
<text x="417.20" y="272.30" font-size="8.2" text-anchor="end" font-weight="normal" fill="#222">100</text>
<line x1="420.60" y1="349.97" x2="422.60" y2="349.97" stroke="#111" stroke-width="0.6"/>
<line x1="420.60" y1="345.75" x2="422.60" y2="345.75" stroke="#111" stroke-width="0.6"/>
<line x1="420.60" y1="341.52" x2="422.60" y2="341.52" stroke="#111" stroke-width="0.6"/>
<line x1="420.60" y1="333.07" x2="422.60" y2="333.07" stroke="#111" stroke-width="0.6"/>
<line x1="420.60" y1="328.85" x2="422.60" y2="328.85" stroke="#111" stroke-width="0.6"/>
<line x1="420.60" y1="324.62" x2="422.60" y2="324.62" stroke="#111" stroke-width="0.6"/>
<line x1="420.60" y1="316.18" x2="422.60" y2="316.18" stroke="#111" stroke-width="0.6"/>
<line x1="420.60" y1="311.95" x2="422.60" y2="311.95" stroke="#111" stroke-width="0.6"/>
<line x1="420.60" y1="307.72" x2="422.60" y2="307.72" stroke="#111" stroke-width="0.6"/>
<line x1="420.60" y1="299.27" x2="422.60" y2="299.27" stroke="#111" stroke-width="0.6"/>
<line x1="420.60" y1="295.05" x2="422.60" y2="295.05" stroke="#111" stroke-width="0.6"/>
<line x1="420.60" y1="290.82" x2="422.60" y2="290.82" stroke="#111" stroke-width="0.6"/>
<line x1="420.60" y1="282.38" x2="422.60" y2="282.38" stroke="#111" stroke-width="0.6"/>
<line x1="420.60" y1="278.15" x2="422.60" y2="278.15" stroke="#111" stroke-width="0.6"/>
<line x1="420.60" y1="273.93" x2="422.60" y2="273.93" stroke="#111" stroke-width="0.6"/>
<line x1="429.00" y1="354.20" x2="429.00" y2="355.80" stroke="#111" stroke-width="0.6"/>
<line x1="433.00" y1="354.20" x2="433.00" y2="355.80" stroke="#111" stroke-width="0.6"/>
<line x1="437.30" y1="354.20" x2="437.30" y2="355.80" stroke="#111" stroke-width="0.6"/>
<line x1="441.00" y1="354.20" x2="441.00" y2="355.80" stroke="#111" stroke-width="0.6"/>
<line x1="443.80" y1="354.20" x2="443.80" y2="355.80" stroke="#111" stroke-width="0.6"/>
<line x1="447.00" y1="354.20" x2="447.00" y2="355.80" stroke="#111" stroke-width="0.6"/>
<line x1="450.50" y1="354.20" x2="450.50" y2="355.80" stroke="#111" stroke-width="0.6"/>
<line x1="452.50" y1="354.20" x2="452.50" y2="355.80" stroke="#111" stroke-width="0.6"/>
<line x1="454.50" y1="354.20" x2="454.50" y2="355.80" stroke="#111" stroke-width="0.6"/>
<line x1="458.60" y1="354.20" x2="458.60" y2="355.80" stroke="#111" stroke-width="0.6"/>
<line x1="463.00" y1="354.20" x2="463.00" y2="355.80" stroke="#111" stroke-width="0.6"/>
<line x1="467.00" y1="354.20" x2="467.00" y2="355.80" stroke="#111" stroke-width="0.6"/>
<line x1="470.00" y1="354.20" x2="470.00" y2="355.80" stroke="#111" stroke-width="0.6"/>
<line x1="472.00" y1="354.20" x2="472.00" y2="355.80" stroke="#111" stroke-width="0.6"/>
<line x1="474.00" y1="354.20" x2="474.00" y2="355.80" stroke="#111" stroke-width="0.6"/>
<line x1="476.00" y1="354.20" x2="476.00" y2="355.80" stroke="#111" stroke-width="0.6"/>
<line x1="478.10" y1="354.20" x2="478.10" y2="355.80" stroke="#111" stroke-width="0.6"/>
<line x1="482.00" y1="354.20" x2="482.00" y2="355.80" stroke="#111" stroke-width="0.6"/>
<line x1="486.00" y1="354.20" x2="486.00" y2="355.80" stroke="#111" stroke-width="0.6"/>
<line x1="489.00" y1="354.20" x2="489.00" y2="355.80" stroke="#111" stroke-width="0.6"/>
<line x1="491.50" y1="354.20" x2="491.50" y2="355.80" stroke="#111" stroke-width="0.6"/>
<line x1="494.00" y1="354.20" x2="494.00" y2="355.80" stroke="#111" stroke-width="0.6"/>
<line x1="496.00" y1="354.20" x2="496.00" y2="355.80" stroke="#111" stroke-width="0.6"/>
<line x1="498.30" y1="354.20" x2="498.30" y2="355.80" stroke="#111" stroke-width="0.6"/>
<line x1="502.00" y1="354.20" x2="502.00" y2="355.80" stroke="#111" stroke-width="0.6"/>
<line x1="506.00" y1="354.20" x2="506.00" y2="355.80" stroke="#111" stroke-width="0.6"/>
<line x1="509.00" y1="354.20" x2="509.00" y2="355.80" stroke="#111" stroke-width="0.6"/>
<line x1="511.50" y1="354.20" x2="511.50" y2="355.80" stroke="#111" stroke-width="0.6"/>
<line x1="437.30" y1="354.20" x2="437.30" y2="357.00" stroke="#111" stroke-width="0.9"/>
<line x1="443.80" y1="354.20" x2="443.80" y2="357.00" stroke="#111" stroke-width="0.9"/>
<line x1="458.60" y1="354.20" x2="458.60" y2="357.00" stroke="#111" stroke-width="0.9"/>
<line x1="478.10" y1="354.20" x2="478.10" y2="357.00" stroke="#111" stroke-width="0.9"/>
<line x1="498.30" y1="354.20" x2="498.30" y2="357.00" stroke="#111" stroke-width="0.9"/>
<polyline points="450.80,354.20 453.70,318.70 456.60,285.40 458.60,277.60 461.50,289.40 464.50,308.90 468.40,332.40 473.30,346.10 479.10,353.00 482.00,354.20" fill="none" stroke="#c6c6e2" stroke-width="0.9" stroke-linejoin="round"/>
<polyline points="447.80,354.20 451.70,338.30 454.70,299.10 457.60,277.60 460.50,274.10 462.50,277.60 464.50,289.40 467.40,310.90 471.30,332.40 476.20,346.10 483.10,353.00 486.00,354.20" fill="none" stroke="#7070bc" stroke-width="0.9" stroke-linejoin="round"/>
<polyline points="449.80,354.20 454.70,340.20 458.60,324.60 461.10,312.80 463.50,309.90 465.40,303.00 468.40,293.30 470.30,291.30 471.70,287.40 473.30,281.50 474.20,286.40 476.20,280.50 477.20,284.50 478.70,279.60 480.10,284.50 482.10,295.20 485.00,314.80 488.00,332.40 490.90,346.10 493.80,353.50 495.00,354.20" fill="none" stroke="#3c9c48" stroke-width="0.9" stroke-linejoin="round"/>
<text x="0.00" y="0.00" font-size="7.5" text-anchor="start" font-weight="normal" fill="#222" transform="translate(435.60,333.60) rotate(-90)">Dec/5Aza-Res</text>
<text x="0.00" y="0.00" font-size="7.5" text-anchor="start" font-weight="normal" fill="#222" transform="translate(444.80,327.50) rotate(-90)">(0.5/5 µM)</text>
<rect x="422.60" y="374.10" width="90.40" height="89.70" fill="none" stroke="#111" stroke-width="0.9"/>
<line x1="422.60" y1="374.10" x2="422.60" y2="464.40" stroke="#111" stroke-width="1.6"/>
<line x1="422.00" y1="463.80" x2="513.00" y2="463.80" stroke="#111" stroke-width="1.4"/>
<line x1="418.50" y1="463.50" x2="422.60" y2="463.50" stroke="#111" stroke-width="0.9"/>
<text x="417.20" y="466.40" font-size="8.2" text-anchor="end" font-weight="normal" fill="#222">0</text>
<line x1="418.50" y1="446.60" x2="422.60" y2="446.60" stroke="#111" stroke-width="0.9"/>
<text x="417.20" y="449.50" font-size="8.2" text-anchor="end" font-weight="normal" fill="#222">20</text>
<line x1="418.50" y1="429.70" x2="422.60" y2="429.70" stroke="#111" stroke-width="0.9"/>
<text x="417.20" y="432.60" font-size="8.2" text-anchor="end" font-weight="normal" fill="#222">40</text>
<line x1="418.50" y1="412.80" x2="422.60" y2="412.80" stroke="#111" stroke-width="0.9"/>
<text x="417.20" y="415.70" font-size="8.2" text-anchor="end" font-weight="normal" fill="#222">60</text>
<line x1="418.50" y1="395.90" x2="422.60" y2="395.90" stroke="#111" stroke-width="0.9"/>
<text x="417.20" y="398.80" font-size="8.2" text-anchor="end" font-weight="normal" fill="#222">80</text>
<line x1="418.50" y1="379.00" x2="422.60" y2="379.00" stroke="#111" stroke-width="0.9"/>
<text x="417.20" y="381.90" font-size="8.2" text-anchor="end" font-weight="normal" fill="#222">100</text>
<line x1="420.60" y1="459.57" x2="422.60" y2="459.57" stroke="#111" stroke-width="0.6"/>
<line x1="420.60" y1="455.35" x2="422.60" y2="455.35" stroke="#111" stroke-width="0.6"/>
<line x1="420.60" y1="451.12" x2="422.60" y2="451.12" stroke="#111" stroke-width="0.6"/>
<line x1="420.60" y1="442.68" x2="422.60" y2="442.68" stroke="#111" stroke-width="0.6"/>
<line x1="420.60" y1="438.45" x2="422.60" y2="438.45" stroke="#111" stroke-width="0.6"/>
<line x1="420.60" y1="434.23" x2="422.60" y2="434.23" stroke="#111" stroke-width="0.6"/>
<line x1="420.60" y1="425.78" x2="422.60" y2="425.78" stroke="#111" stroke-width="0.6"/>
<line x1="420.60" y1="421.55" x2="422.60" y2="421.55" stroke="#111" stroke-width="0.6"/>
<line x1="420.60" y1="417.32" x2="422.60" y2="417.32" stroke="#111" stroke-width="0.6"/>
<line x1="420.60" y1="408.88" x2="422.60" y2="408.88" stroke="#111" stroke-width="0.6"/>
<line x1="420.60" y1="404.65" x2="422.60" y2="404.65" stroke="#111" stroke-width="0.6"/>
<line x1="420.60" y1="400.43" x2="422.60" y2="400.43" stroke="#111" stroke-width="0.6"/>
<line x1="420.60" y1="391.98" x2="422.60" y2="391.98" stroke="#111" stroke-width="0.6"/>
<line x1="420.60" y1="387.75" x2="422.60" y2="387.75" stroke="#111" stroke-width="0.6"/>
<line x1="420.60" y1="383.53" x2="422.60" y2="383.53" stroke="#111" stroke-width="0.6"/>
<line x1="429.00" y1="463.80" x2="429.00" y2="465.40" stroke="#111" stroke-width="0.6"/>
<line x1="433.00" y1="463.80" x2="433.00" y2="465.40" stroke="#111" stroke-width="0.6"/>
<line x1="437.30" y1="463.80" x2="437.30" y2="465.40" stroke="#111" stroke-width="0.6"/>
<line x1="441.00" y1="463.80" x2="441.00" y2="465.40" stroke="#111" stroke-width="0.6"/>
<line x1="443.80" y1="463.80" x2="443.80" y2="465.40" stroke="#111" stroke-width="0.6"/>
<line x1="447.00" y1="463.80" x2="447.00" y2="465.40" stroke="#111" stroke-width="0.6"/>
<line x1="450.50" y1="463.80" x2="450.50" y2="465.40" stroke="#111" stroke-width="0.6"/>
<line x1="452.50" y1="463.80" x2="452.50" y2="465.40" stroke="#111" stroke-width="0.6"/>
<line x1="454.50" y1="463.80" x2="454.50" y2="465.40" stroke="#111" stroke-width="0.6"/>
<line x1="458.60" y1="463.80" x2="458.60" y2="465.40" stroke="#111" stroke-width="0.6"/>
<line x1="463.00" y1="463.80" x2="463.00" y2="465.40" stroke="#111" stroke-width="0.6"/>
<line x1="467.00" y1="463.80" x2="467.00" y2="465.40" stroke="#111" stroke-width="0.6"/>
<line x1="470.00" y1="463.80" x2="470.00" y2="465.40" stroke="#111" stroke-width="0.6"/>
<line x1="472.00" y1="463.80" x2="472.00" y2="465.40" stroke="#111" stroke-width="0.6"/>
<line x1="474.00" y1="463.80" x2="474.00" y2="465.40" stroke="#111" stroke-width="0.6"/>
<line x1="476.00" y1="463.80" x2="476.00" y2="465.40" stroke="#111" stroke-width="0.6"/>
<line x1="478.10" y1="463.80" x2="478.10" y2="465.40" stroke="#111" stroke-width="0.6"/>
<line x1="482.00" y1="463.80" x2="482.00" y2="465.40" stroke="#111" stroke-width="0.6"/>
<line x1="486.00" y1="463.80" x2="486.00" y2="465.40" stroke="#111" stroke-width="0.6"/>
<line x1="489.00" y1="463.80" x2="489.00" y2="465.40" stroke="#111" stroke-width="0.6"/>
<line x1="491.50" y1="463.80" x2="491.50" y2="465.40" stroke="#111" stroke-width="0.6"/>
<line x1="494.00" y1="463.80" x2="494.00" y2="465.40" stroke="#111" stroke-width="0.6"/>
<line x1="496.00" y1="463.80" x2="496.00" y2="465.40" stroke="#111" stroke-width="0.6"/>
<line x1="498.30" y1="463.80" x2="498.30" y2="465.40" stroke="#111" stroke-width="0.6"/>
<line x1="502.00" y1="463.80" x2="502.00" y2="465.40" stroke="#111" stroke-width="0.6"/>
<line x1="506.00" y1="463.80" x2="506.00" y2="465.40" stroke="#111" stroke-width="0.6"/>
<line x1="509.00" y1="463.80" x2="509.00" y2="465.40" stroke="#111" stroke-width="0.6"/>
<line x1="511.50" y1="463.80" x2="511.50" y2="465.40" stroke="#111" stroke-width="0.6"/>
<line x1="437.30" y1="463.80" x2="437.30" y2="466.60" stroke="#111" stroke-width="0.9"/>
<line x1="443.80" y1="463.80" x2="443.80" y2="466.60" stroke="#111" stroke-width="0.9"/>
<line x1="458.60" y1="463.80" x2="458.60" y2="466.60" stroke="#111" stroke-width="0.9"/>
<line x1="478.10" y1="463.80" x2="478.10" y2="466.60" stroke="#111" stroke-width="0.9"/>
<line x1="498.30" y1="463.80" x2="498.30" y2="466.60" stroke="#111" stroke-width="0.9"/>
<polyline points="452.50,463.80 455.20,440.00 457.20,414.00 459.20,393.00 460.90,387.50 462.50,392.00 463.90,388.60 465.80,401.00 468.80,420.00 471.70,437.50 475.60,453.00 481.50,462.50 484.50,463.80" fill="none" stroke="#c6c6e2" stroke-width="0.8" stroke-linejoin="round"/>
<polyline points="451.70,463.80 454.70,438.50 456.60,415.00 458.60,395.40 460.50,385.70 461.90,391.50 463.50,387.60 465.40,399.40 468.40,418.90 471.30,436.50 475.20,452.20 481.10,462.00 484.00,463.80" fill="none" stroke="#7070bc" stroke-width="0.9" stroke-linejoin="round"/>
<polyline points="450.80,463.80 455.70,452.20 459.60,438.50 463.50,422.80 467.40,409.10 470.30,402.30 473.30,397.40 475.20,392.50 477.20,395.40 479.10,394.50 480.50,400.30 482.10,398.40 484.00,413.00 487.00,432.60 490.90,452.20 494.80,462.00 497.00,463.80" fill="none" stroke="#3c9c48" stroke-width="0.9" stroke-linejoin="round"/>
<text x="0.00" y="0.00" font-size="7.5" text-anchor="start" font-weight="normal" fill="#222" transform="translate(435.40,444.40) rotate(-90)">Dec/5Aza-Res</text>
<text x="0.00" y="0.00" font-size="7.5" text-anchor="start" font-weight="normal" fill="#222" transform="translate(444.80,437.50) rotate(-90)">(1.5/5 µM)</text>
<text x="429.50" y="476.50" font-size="7.8" text-anchor="middle" font-weight="normal" fill="#222">−10<tspan font-size="5.2" dy="-3">3</tspan></text>
<text x="443.80" y="476.50" font-size="7.8" text-anchor="middle" font-weight="normal" fill="#222">0</text>
<text x="458.30" y="476.50" font-size="7.8" text-anchor="middle" font-weight="normal" fill="#222">10<tspan font-size="5.2" dy="-3">3</tspan></text>
<text x="482.60" y="476.50" font-size="7.8" text-anchor="middle" font-weight="normal" fill="#222">10<tspan font-size="5.2" dy="-3">4</tspan></text>
<text x="504.20" y="476.50" font-size="7.8" text-anchor="middle" font-weight="normal" fill="#222">10<tspan font-size="5.2" dy="-3">5</tspan></text>
<text x="0.00" y="0.00" font-size="8.4" text-anchor="middle" font-weight="normal" fill="#222" transform="translate(468.20,490.50) scale(0.82,1)">CD11b</text>
<text x="0.00" y="0.00" font-size="8.4" text-anchor="middle" font-weight="normal" fill="#222" transform="translate(467.50,501.00) scale(0.78,1)">Fluorescence intensity</text>
<text x="0.00" y="0.00" font-size="8.4" text-anchor="start" font-weight="normal" fill="#222" transform="translate(398.40,319.20) rotate(-90) scale(0.7,1)">Counts</text>
<text x="7.30" y="330.40" font-size="11.2" text-anchor="start" font-weight="bold" fill="#111">C</text>
<text x="72.60" y="349.30" font-size="7.6" text-anchor="middle" font-weight="normal" fill="#222">Parental</text>
<text x="118.00" y="339.50" font-size="7.6" text-anchor="middle" font-weight="normal" fill="#222">Res</text>
<text x="118.00" y="348.70" font-size="7.6" text-anchor="middle" font-weight="normal" fill="#222">(0.5/5 µM)</text>
<text x="157.90" y="339.50" font-size="7.6" text-anchor="middle" font-weight="normal" fill="#222">Res</text>
<text x="158.10" y="348.70" font-size="7.6" text-anchor="middle" font-weight="normal" fill="#222">(1.5/5 µM)</text>
<line x1="44.10" y1="354.60" x2="44.10" y2="373.60" stroke="#111" stroke-width="1.3"/>
<line x1="44.10" y1="380.20" x2="44.10" y2="444.90" stroke="#111" stroke-width="1.3"/>
<line x1="41.10" y1="357.10" x2="44.10" y2="357.10" stroke="#111" stroke-width="0.9"/>
<text x="37.50" y="359.80" font-size="7.2" text-anchor="end" font-weight="normal" fill="#222">80</text>
<line x1="41.10" y1="365.40" x2="44.10" y2="365.40" stroke="#111" stroke-width="0.9"/>
<text x="37.50" y="368.10" font-size="7.2" text-anchor="end" font-weight="normal" fill="#222">60</text>
<line x1="41.10" y1="373.10" x2="44.10" y2="373.10" stroke="#111" stroke-width="0.9"/>
<text x="37.50" y="375.80" font-size="7.2" text-anchor="end" font-weight="normal" fill="#222">40</text>
<line x1="41.10" y1="380.20" x2="44.10" y2="380.20" stroke="#111" stroke-width="0.9"/>
<text x="37.50" y="382.90" font-size="7.2" text-anchor="end" font-weight="normal" fill="#222">40</text>
<line x1="41.10" y1="396.10" x2="44.10" y2="396.10" stroke="#111" stroke-width="0.9"/>
<text x="37.50" y="398.80" font-size="7.2" text-anchor="end" font-weight="normal" fill="#222">30</text>
<line x1="41.10" y1="412.20" x2="44.10" y2="412.20" stroke="#111" stroke-width="0.9"/>
<text x="37.50" y="414.90" font-size="7.2" text-anchor="end" font-weight="normal" fill="#222">20</text>
<line x1="41.10" y1="428.30" x2="44.10" y2="428.30" stroke="#111" stroke-width="0.9"/>
<text x="37.50" y="431.00" font-size="7.2" text-anchor="end" font-weight="normal" fill="#222">10</text>
<line x1="41.10" y1="444.40" x2="44.10" y2="444.40" stroke="#111" stroke-width="0.9"/>
<text x="37.50" y="447.10" font-size="7.2" text-anchor="end" font-weight="normal" fill="#222">0</text>
<line x1="43.50" y1="444.40" x2="174.60" y2="444.40" stroke="#111" stroke-width="1.3"/>
<line x1="100.30" y1="357.50" x2="100.30" y2="479.50" stroke="#8a8a8a" stroke-width="1.4"/>
<line x1="136.70" y1="357.50" x2="136.70" y2="479.50" stroke="#707070" stroke-width="0.9"/>
<text x="0.00" y="0.00" font-size="7.3" text-anchor="start" font-weight="normal" fill="#222" transform="translate(22.20,433.60) rotate(-90) scale(0.9,1)">%Annexin-positive cells</text>
<text x="0.00" y="0.00" font-size="7.6" text-anchor="end" font-weight="normal" fill="#222" transform="translate(52.30,448.80) rotate(-90)">Veh</text>
<text x="0.00" y="0.00" font-size="7.6" text-anchor="end" font-weight="normal" fill="#222" transform="translate(61.40,448.80) rotate(-90)">Dec</text>
<text x="0.00" y="0.00" font-size="7.6" text-anchor="end" font-weight="normal" fill="#222" transform="translate(70.40,448.80) rotate(-90)">Aza</text>
<text x="0.00" y="0.00" font-size="7.6" text-anchor="end" font-weight="normal" fill="#222" transform="translate(79.60,448.80) rotate(-90)">Ven</text>
<text x="0.00" y="0.00" font-size="7.6" text-anchor="end" font-weight="normal" fill="#222" transform="translate(88.90,448.80) rotate(-90)">Teri</text>
<text x="0.00" y="0.00" font-size="7.6" text-anchor="end" font-weight="normal" fill="#222" transform="translate(97.70,448.80) rotate(-90)">Campto</text>
<text x="0.00" y="0.00" font-size="7.6" text-anchor="end" font-weight="normal" fill="#222" transform="translate(107.10,448.80) rotate(-90)">Veh</text>
<text x="0.00" y="0.00" font-size="7.6" text-anchor="end" font-weight="normal" fill="#222" transform="translate(116.00,448.80) rotate(-90)">Ven</text>
<text x="0.00" y="0.00" font-size="7.6" text-anchor="end" font-weight="normal" fill="#222" transform="translate(125.40,448.80) rotate(-90)">Teri</text>
<text x="0.00" y="0.00" font-size="7.6" text-anchor="end" font-weight="normal" fill="#222" transform="translate(134.30,448.80) rotate(-90)">Campto</text>
<text x="0.00" y="0.00" font-size="7.6" text-anchor="end" font-weight="normal" fill="#222" transform="translate(143.10,448.80) rotate(-90)">Veh</text>
<text x="0.00" y="0.00" font-size="7.6" text-anchor="end" font-weight="normal" fill="#222" transform="translate(152.30,448.80) rotate(-90)">Ven</text>
<text x="0.00" y="0.00" font-size="7.6" text-anchor="end" font-weight="normal" fill="#222" transform="translate(161.40,448.80) rotate(-90)">Teri</text>
<text x="0.00" y="0.00" font-size="7.6" text-anchor="end" font-weight="normal" fill="#222" transform="translate(170.60,448.80) rotate(-90)">Campto</text>
<line x1="49.60" y1="444.40" x2="49.60" y2="446.60" stroke="#111" stroke-width="0.8"/>
<line x1="58.70" y1="444.40" x2="58.70" y2="446.60" stroke="#111" stroke-width="0.8"/>
<line x1="67.70" y1="444.40" x2="67.70" y2="446.60" stroke="#111" stroke-width="0.8"/>
<line x1="76.90" y1="444.40" x2="76.90" y2="446.60" stroke="#111" stroke-width="0.8"/>
<line x1="86.20" y1="444.40" x2="86.20" y2="446.60" stroke="#111" stroke-width="0.8"/>
<line x1="95.00" y1="444.40" x2="95.00" y2="446.60" stroke="#111" stroke-width="0.8"/>
<line x1="104.40" y1="444.40" x2="104.40" y2="446.60" stroke="#111" stroke-width="0.8"/>
<line x1="113.30" y1="444.40" x2="113.30" y2="446.60" stroke="#111" stroke-width="0.8"/>
<line x1="122.70" y1="444.40" x2="122.70" y2="446.60" stroke="#111" stroke-width="0.8"/>
<line x1="131.60" y1="444.40" x2="131.60" y2="446.60" stroke="#111" stroke-width="0.8"/>
<line x1="140.40" y1="444.40" x2="140.40" y2="446.60" stroke="#111" stroke-width="0.8"/>
<line x1="149.60" y1="444.40" x2="149.60" y2="446.60" stroke="#111" stroke-width="0.8"/>
<line x1="158.70" y1="444.40" x2="158.70" y2="446.60" stroke="#111" stroke-width="0.8"/>
<line x1="167.90" y1="444.40" x2="167.90" y2="446.60" stroke="#111" stroke-width="0.8"/>
<path d="M46.70,448.19 L52.50,448.19 L49.60,443.25 Z" fill="#70c8c8" opacity="0.85" filter="url(#mb)"/>
<path d="M46.70,445.61 L52.50,445.61 L49.60,440.68 Z" fill="#f0b0c8" opacity="0.85" filter="url(#mb)"/>
<path d="M46.70,446.25 L52.50,446.25 L49.60,441.32 Z" fill="#f0b0c8" opacity="0.85" filter="url(#mb)"/>
<path d="M46.70,444.64 L52.50,444.64 L49.60,439.71 Z" fill="#111" opacity="0.85" filter="url(#mb)"/>
<line x1="49.60" y1="443.76" x2="49.60" y2="441.50" stroke="#222" stroke-width="0.9"/>
<line x1="47.80" y1="443.76" x2="51.40" y2="443.76" stroke="#222" stroke-width="0.9"/>
<line x1="47.80" y1="441.50" x2="51.40" y2="441.50" stroke="#222" stroke-width="0.9"/>
<line x1="47.20" y1="442.63" x2="52.00" y2="442.63" stroke="#222" stroke-width="1.0"/>
<path d="M55.80,443.03 L61.60,443.03 L58.70,438.10 Z" fill="#c8103c" opacity="0.85" filter="url(#mb)"/>
<path d="M55.80,444.96 L61.60,444.96 L58.70,440.03 Z" fill="#c8103c" opacity="0.85" filter="url(#mb)"/>
<path d="M55.80,446.25 L61.60,446.25 L58.70,441.32 Z" fill="#c8103c" opacity="0.85" filter="url(#mb)"/>
<line x1="58.70" y1="444.08" x2="58.70" y2="439.89" stroke="#500" stroke-width="0.9"/>
<line x1="56.90" y1="444.08" x2="60.50" y2="444.08" stroke="#500" stroke-width="0.9"/>
<line x1="56.90" y1="439.89" x2="60.50" y2="439.89" stroke="#500" stroke-width="0.9"/>
<line x1="56.30" y1="442.47" x2="61.10" y2="442.47" stroke="#500" stroke-width="1.0"/>
<path d="M64.80,437.72 L70.60,437.72 L67.70,432.79 Z" fill="#f0a8b8" opacity="0.85" filter="url(#mb)"/>
<path d="M64.80,440.13 L70.60,440.13 L67.70,435.20 Z" fill="#f0a8b8" opacity="0.85" filter="url(#mb)"/>
<path d="M64.80,432.08 L70.60,432.08 L67.70,427.15 Z" fill="#c87890" opacity="0.85" filter="url(#mb)"/>
<path d="M64.80,434.50 L70.60,434.50 L67.70,429.57 Z" fill="#c87890" opacity="0.85" filter="url(#mb)"/>
<line x1="67.70" y1="435.54" x2="67.70" y2="427.50" stroke="#402020" stroke-width="0.9"/>
<line x1="65.90" y1="435.54" x2="69.50" y2="435.54" stroke="#402020" stroke-width="0.9"/>
<line x1="65.90" y1="427.50" x2="69.50" y2="427.50" stroke="#402020" stroke-width="0.9"/>
<line x1="65.30" y1="431.04" x2="70.10" y2="431.04" stroke="#402020" stroke-width="1.0"/>
<path d="M74.00,441.75 L79.80,441.75 L76.90,436.81 Z" fill="#8888d0" opacity="0.85" filter="url(#mb)"/>
<path d="M74.00,443.35 L79.80,443.35 L76.90,438.42 Z" fill="#8888d0" opacity="0.85" filter="url(#mb)"/>
<path d="M74.00,440.13 L79.80,440.13 L76.90,435.20 Z" fill="#303088" opacity="0.85" filter="url(#mb)"/>
<line x1="76.90" y1="440.54" x2="76.90" y2="437.32" stroke="#202060" stroke-width="0.9"/>
<line x1="75.10" y1="440.54" x2="78.70" y2="440.54" stroke="#202060" stroke-width="0.9"/>
<line x1="75.10" y1="437.32" x2="78.70" y2="437.32" stroke="#202060" stroke-width="0.9"/>
<line x1="74.50" y1="438.93" x2="79.30" y2="438.93" stroke="#202060" stroke-width="1.0"/>
<path d="M83.30,444.64 L89.10,444.64 L86.20,439.71 Z" fill="#3a9a50" opacity="0.85" filter="url(#mb)"/>
<path d="M83.30,446.25 L89.10,446.25 L86.20,441.32 Z" fill="#3a9a50" opacity="0.85" filter="url(#mb)"/>
<line x1="86.20" y1="444.08" x2="86.20" y2="442.15" stroke="#104018" stroke-width="0.9"/>
<line x1="84.40" y1="444.08" x2="88.00" y2="444.08" stroke="#104018" stroke-width="0.9"/>
<line x1="84.40" y1="442.15" x2="88.00" y2="442.15" stroke="#104018" stroke-width="0.9"/>
<line x1="83.80" y1="443.11" x2="88.60" y2="443.11" stroke="#104018" stroke-width="1.0"/>
<path d="M92.10,363.28 L97.90,363.28 L95.00,358.35 Z" fill="#f0a030" opacity="0.85" filter="url(#mb)"/>
<path d="M92.10,364.88 L97.90,364.88 L95.00,359.95 Z" fill="#f0a030" opacity="0.85" filter="url(#mb)"/>
<line x1="95.00" y1="363.90" x2="95.00" y2="360.30" stroke="#402000" stroke-width="0.9"/>
<line x1="93.20" y1="363.90" x2="96.80" y2="363.90" stroke="#402000" stroke-width="0.9"/>
<line x1="93.20" y1="360.30" x2="96.80" y2="360.30" stroke="#402000" stroke-width="0.9"/>
<line x1="92.60" y1="362.10" x2="97.40" y2="362.10" stroke="#402000" stroke-width="1.0"/>
<path d="M92.10,366.48 L97.90,366.48 L95.00,361.55 Z" fill="#f8c070" opacity="0.85" filter="url(#mb)"/>
<path d="M101.50,436.59 L107.30,436.59 L104.40,441.52 Z" fill="#c8c8c8" opacity="0.85" filter="url(#mb)"/>
<path d="M101.50,440.61 L107.30,440.61 L104.40,445.54 Z" fill="#111" opacity="0.85" filter="url(#mb)"/>
<path d="M110.40,426.93 L116.20,426.93 L113.30,431.86 Z" fill="#6868c0" opacity="0.85" filter="url(#mb)"/>
<path d="M110.40,429.02 L116.20,429.02 L113.30,433.95 Z" fill="#6868c0" opacity="0.85" filter="url(#mb)"/>
<path d="M110.40,430.95 L116.20,430.95 L113.30,435.88 Z" fill="#6868c0" opacity="0.85" filter="url(#mb)"/>
<line x1="113.30" y1="435.54" x2="113.30" y2="428.30" stroke="#202060" stroke-width="0.9"/>
<line x1="111.50" y1="435.54" x2="115.10" y2="435.54" stroke="#202060" stroke-width="0.9"/>
<line x1="111.50" y1="428.30" x2="115.10" y2="428.30" stroke="#202060" stroke-width="0.9"/>
<line x1="110.90" y1="431.84" x2="115.70" y2="431.84" stroke="#202060" stroke-width="1.0"/>
<path d="M110.40,432.89 L116.20,432.89 L113.30,437.82 Z" fill="#9090d0" opacity="0.85" filter="url(#mb)"/>
<path d="M119.80,438.20 L125.60,438.20 L122.70,443.13 Z" fill="#3aa050" opacity="0.85" filter="url(#mb)"/>
<path d="M119.80,439.81 L125.60,439.81 L122.70,444.74 Z" fill="#3aa050" opacity="0.85" filter="url(#mb)"/>
<path d="M119.80,440.94 L125.60,440.94 L122.70,445.87 Z" fill="#3aa050" opacity="0.85" filter="url(#mb)"/>
<line x1="122.70" y1="443.43" x2="122.70" y2="440.21" stroke="#104018" stroke-width="0.9"/>
<line x1="120.90" y1="443.43" x2="124.50" y2="443.43" stroke="#104018" stroke-width="0.9"/>
<line x1="120.90" y1="440.21" x2="124.50" y2="440.21" stroke="#104018" stroke-width="0.9"/>
<line x1="120.30" y1="441.82" x2="125.10" y2="441.82" stroke="#104018" stroke-width="1.0"/>
<path d="M128.40,386.68 L134.20,386.68 L131.30,391.61 Z" fill="#f0a020" opacity="0.85" filter="url(#mb)"/>
<path d="M128.40,390.70 L134.20,390.70 L131.30,395.63 Z" fill="#f0a020" opacity="0.85" filter="url(#mb)"/>
<path d="M128.40,396.34 L134.20,396.34 L131.30,401.27 Z" fill="#f0a020" opacity="0.85" filter="url(#mb)"/>
<line x1="131.30" y1="401.73" x2="131.30" y2="389.66" stroke="#402000" stroke-width="0.9"/>
<line x1="129.50" y1="401.73" x2="133.10" y2="401.73" stroke="#402000" stroke-width="0.9"/>
<line x1="129.50" y1="389.66" x2="133.10" y2="389.66" stroke="#402000" stroke-width="0.9"/>
<line x1="128.90" y1="395.29" x2="133.70" y2="395.29" stroke="#402000" stroke-width="1.0"/>
<path d="M128.40,399.56 L134.20,399.56 L131.30,404.49 Z" fill="#e89010" opacity="0.85" filter="url(#mb)"/>
<path d="M137.50,439.97 L143.30,439.97 L140.40,444.90 Z" fill="#111" opacity="0.85" filter="url(#mb)"/>
<path d="M137.50,441.58 L143.30,441.58 L140.40,446.51 Z" fill="#d8d8d8" opacity="0.85" filter="url(#mb)"/>
<path d="M146.70,424.51 L152.50,424.51 L149.60,429.44 Z" fill="#6a6ac0" opacity="0.85" filter="url(#mb)"/>
<path d="M146.70,426.77 L152.50,426.77 L149.60,431.70 Z" fill="#6a6ac0" opacity="0.85" filter="url(#mb)"/>
<path d="M146.70,428.70 L152.50,428.70 L149.60,433.63 Z" fill="#6a6ac0" opacity="0.85" filter="url(#mb)"/>
<line x1="149.60" y1="433.13" x2="149.60" y2="426.69" stroke="#202060" stroke-width="0.9"/>
<line x1="147.80" y1="433.13" x2="151.40" y2="433.13" stroke="#202060" stroke-width="0.9"/>
<line x1="147.80" y1="426.69" x2="151.40" y2="426.69" stroke="#202060" stroke-width="0.9"/>
<line x1="147.20" y1="429.91" x2="152.00" y2="429.91" stroke="#202060" stroke-width="1.0"/>
<path d="M146.70,430.63 L152.50,430.63 L149.60,435.56 Z" fill="#8888d0" opacity="0.85" filter="url(#mb)"/>
<path d="M155.80,437.39 L161.60,437.39 L158.70,442.32 Z" fill="#3aa050" opacity="0.85" filter="url(#mb)"/>
<path d="M155.80,439.33 L161.60,439.33 L158.70,444.26 Z" fill="#3aa050" opacity="0.85" filter="url(#mb)"/>
<path d="M155.80,441.26 L161.60,441.26 L158.70,446.19 Z" fill="#3aa050" opacity="0.85" filter="url(#mb)"/>
<line x1="158.70" y1="443.11" x2="158.70" y2="439.57" stroke="#104018" stroke-width="0.9"/>
<line x1="156.90" y1="443.11" x2="160.50" y2="443.11" stroke="#104018" stroke-width="0.9"/>
<line x1="156.90" y1="439.57" x2="160.50" y2="439.57" stroke="#104018" stroke-width="0.9"/>
<line x1="156.30" y1="441.34" x2="161.10" y2="441.34" stroke="#104018" stroke-width="1.0"/>
<path d="M165.00,419.20 L170.80,419.20 L167.90,424.13 Z" fill="#f0a020" opacity="0.85" filter="url(#mb)"/>
<path d="M165.00,420.65 L170.80,420.65 L167.90,425.58 Z" fill="#f0a020" opacity="0.85" filter="url(#mb)"/>
<path d="M165.00,422.58 L170.80,422.58 L167.90,427.51 Z" fill="#f0a020" opacity="0.85" filter="url(#mb)"/>
<line x1="167.90" y1="427.01" x2="167.90" y2="420.57" stroke="#402000" stroke-width="0.9"/>
<line x1="166.10" y1="427.01" x2="169.70" y2="427.01" stroke="#402000" stroke-width="0.9"/>
<line x1="166.10" y1="420.57" x2="169.70" y2="420.57" stroke="#402000" stroke-width="0.9"/>
<line x1="165.50" y1="423.79" x2="170.30" y2="423.79" stroke="#402000" stroke-width="1.0"/>
<path d="M165.00,424.35 L170.80,424.35 L167.90,429.28 Z" fill="#f8b040" opacity="0.85" filter="url(#mb)"/>
<text transform="translate(116.50,416.20) rotate(-90)" font-size="7.6" fill="#222"><tspan font-style="italic">P</tspan> = .01</text>
<text transform="translate(154.50,416.20) rotate(-90)" font-size="7.6" fill="#222"><tspan font-style="italic">P</tspan> = .01</text>
<text x="192.30" y="330.60" font-size="11.2" text-anchor="start" font-weight="bold" fill="#111">E</text>
<text x="236.50" y="340.40" font-size="7.9" text-anchor="middle" font-weight="normal" fill="#222">Parental</text>
<text x="287.80" y="340.40" font-size="7.9" text-anchor="middle" font-weight="normal" fill="#222">Res 0.5/5</text>
<text x="339.40" y="340.40" font-size="7.9" text-anchor="middle" font-weight="normal" fill="#222">Res 1.5/5</text>
<text x="0.00" y="0.00" font-size="7.6" text-anchor="start" font-weight="normal" fill="#222" transform="translate(205.60,380.60) rotate(-90)">Vehicle</text>
<text x="0.00" y="0.00" font-size="7.6" text-anchor="start" font-weight="normal" fill="#222" transform="translate(207.00,432.40) rotate(-90)">Venetoclax</text>
<text x="0.00" y="0.00" font-size="7.4" text-anchor="start" font-weight="normal" fill="#222" transform="translate(207.00,469.50) rotate(-90)">Teriflu.</text>
<clipPath id="c00"><rect x="212.20" y="345.20" width="48.40" height="48.20"/></clipPath>
<rect x="212.20" y="345.20" width="48.40" height="48.20" fill="#f8f7f7" stroke="none" stroke-width="1"/>
<g clip-path="url(#c00)">
<circle cx="222.16" cy="355.67" r="2.51" fill="#8070d8" opacity="0.85" stroke="#fff" stroke-width="0.25" stroke-opacity="0.6" filter="url(#cb)"/>
<circle cx="225.22" cy="352.11" r="2.51" fill="#8070d8" opacity="0.85" stroke="#fff" stroke-width="0.25" stroke-opacity="0.6" filter="url(#cb)"/>
<circle cx="230.30" cy="353.13" r="2.51" fill="#8070d8" opacity="0.85" stroke="#fff" stroke-width="0.25" stroke-opacity="0.6" filter="url(#cb)"/>
<circle cx="233.86" cy="353.64" r="2.51" fill="#8070d8" opacity="0.85" stroke="#fff" stroke-width="0.25" stroke-opacity="0.6" filter="url(#cb)"/>
<circle cx="236.91" cy="354.66" r="2.51" fill="#8070d8" opacity="0.85" stroke="#fff" stroke-width="0.25" stroke-opacity="0.6" filter="url(#cb)"/>
<circle cx="228.27" cy="358.22" r="2.51" fill="#8070d8" opacity="0.85" stroke="#fff" stroke-width="0.25" stroke-opacity="0.6" filter="url(#cb)"/>
<circle cx="231.82" cy="357.71" r="2.51" fill="#8070d8" opacity="0.85" stroke="#fff" stroke-width="0.25" stroke-opacity="0.6" filter="url(#cb)"/>
<circle cx="235.38" cy="358.22" r="2.51" fill="#8070d8" opacity="0.85" stroke="#fff" stroke-width="0.25" stroke-opacity="0.6" filter="url(#cb)"/>
<circle cx="238.94" cy="357.71" r="2.51" fill="#8070d8" opacity="0.85" stroke="#fff" stroke-width="0.25" stroke-opacity="0.6" filter="url(#cb)"/>
<circle cx="241.48" cy="359.23" r="2.51" fill="#8070d8" opacity="0.85" stroke="#fff" stroke-width="0.25" stroke-opacity="0.6" filter="url(#cb)"/>
<circle cx="229.79" cy="361.77" r="2.51" fill="#8070d8" opacity="0.85" stroke="#fff" stroke-width="0.25" stroke-opacity="0.6" filter="url(#cb)"/>
<circle cx="233.35" cy="361.77" r="2.51" fill="#8070d8" opacity="0.85" stroke="#fff" stroke-width="0.25" stroke-opacity="0.6" filter="url(#cb)"/>
<circle cx="236.91" cy="362.28" r="2.51" fill="#8070d8" opacity="0.85" stroke="#fff" stroke-width="0.25" stroke-opacity="0.6" filter="url(#cb)"/>
<circle cx="240.47" cy="362.79" r="2.51" fill="#8070d8" opacity="0.85" stroke="#fff" stroke-width="0.25" stroke-opacity="0.6" filter="url(#cb)"/>
<circle cx="243.52" cy="364.32" r="2.51" fill="#8070d8" opacity="0.85" stroke="#fff" stroke-width="0.25" stroke-opacity="0.6" filter="url(#cb)"/>
<circle cx="228.27" cy="364.82" r="2.51" fill="#8070d8" opacity="0.85" stroke="#fff" stroke-width="0.25" stroke-opacity="0.6" filter="url(#cb)"/>
<circle cx="231.82" cy="365.33" r="2.51" fill="#8070d8" opacity="0.85" stroke="#fff" stroke-width="0.25" stroke-opacity="0.6" filter="url(#cb)"/>
<circle cx="235.38" cy="365.33" r="2.51" fill="#8070d8" opacity="0.85" stroke="#fff" stroke-width="0.25" stroke-opacity="0.6" filter="url(#cb)"/>
<circle cx="239.45" cy="365.84" r="2.51" fill="#8070d8" opacity="0.85" stroke="#fff" stroke-width="0.25" stroke-opacity="0.6" filter="url(#cb)"/>
<circle cx="242.50" cy="366.86" r="2.51" fill="#8070d8" opacity="0.85" stroke="#fff" stroke-width="0.25" stroke-opacity="0.6" filter="url(#cb)"/>
<circle cx="246.57" cy="362.79" r="2.51" fill="#8070d8" opacity="0.85" stroke="#fff" stroke-width="0.25" stroke-opacity="0.6" filter="url(#cb)"/>
<circle cx="249.11" cy="364.32" r="2.51" fill="#8070d8" opacity="0.85" stroke="#fff" stroke-width="0.25" stroke-opacity="0.6" filter="url(#cb)"/>
<circle cx="251.65" cy="366.35" r="2.51" fill="#8070d8" opacity="0.85" stroke="#fff" stroke-width="0.25" stroke-opacity="0.6" filter="url(#cb)"/>
<circle cx="254.19" cy="367.87" r="2.51" fill="#8070d8" opacity="0.85" stroke="#fff" stroke-width="0.25" stroke-opacity="0.6" filter="url(#cb)"/>
<circle cx="227.25" cy="368.89" r="2.51" fill="#8070d8" opacity="0.85" stroke="#fff" stroke-width="0.25" stroke-opacity="0.6" filter="url(#cb)"/>
<circle cx="230.30" cy="369.91" r="2.51" fill="#8070d8" opacity="0.85" stroke="#fff" stroke-width="0.25" stroke-opacity="0.6" filter="url(#cb)"/>
<circle cx="234.37" cy="368.38" r="2.51" fill="#8070d8" opacity="0.85" stroke="#fff" stroke-width="0.25" stroke-opacity="0.6" filter="url(#cb)"/>
<circle cx="224.20" cy="370.42" r="2.51" fill="#8070d8" opacity="0.85" stroke="#fff" stroke-width="0.25" stroke-opacity="0.6" filter="url(#cb)"/>
<circle cx="237.93" cy="368.89" r="2.51" fill="#8070d8" opacity="0.85" stroke="#fff" stroke-width="0.25" stroke-opacity="0.6" filter="url(#cb)"/>
<circle cx="245.55" cy="370.42" r="2.51" fill="#8070d8" opacity="0.85" stroke="#fff" stroke-width="0.25" stroke-opacity="0.6" filter="url(#cb)"/>
<circle cx="248.60" cy="371.43" r="2.51" fill="#8070d8" opacity="0.85" stroke="#fff" stroke-width="0.25" stroke-opacity="0.6" filter="url(#cb)"/>
<circle cx="251.65" cy="371.43" r="2.51" fill="#8070d8" opacity="0.85" stroke="#fff" stroke-width="0.25" stroke-opacity="0.6" filter="url(#cb)"/>
<circle cx="254.70" cy="372.45" r="2.51" fill="#8070d8" opacity="0.85" stroke="#fff" stroke-width="0.25" stroke-opacity="0.6" filter="url(#cb)"/>
<circle cx="246.57" cy="374.48" r="2.51" fill="#8070d8" opacity="0.85" stroke="#fff" stroke-width="0.25" stroke-opacity="0.6" filter="url(#cb)"/>
<circle cx="250.13" cy="375.50" r="2.51" fill="#8070d8" opacity="0.85" stroke="#fff" stroke-width="0.25" stroke-opacity="0.6" filter="url(#cb)"/>
<circle cx="253.69" cy="377.53" r="2.51" fill="#8070d8" opacity="0.85" stroke="#fff" stroke-width="0.25" stroke-opacity="0.6" filter="url(#cb)"/>
<circle cx="250.64" cy="381.09" r="2.51" fill="#8070d8" opacity="0.85" stroke="#fff" stroke-width="0.25" stroke-opacity="0.6" filter="url(#cb)"/>
<circle cx="252.67" cy="382.62" r="2.51" fill="#8070d8" opacity="0.85" stroke="#fff" stroke-width="0.25" stroke-opacity="0.6" filter="url(#cb)"/>
<circle cx="215.56" cy="375.50" r="2.51" fill="#8070d8" opacity="0.85" stroke="#fff" stroke-width="0.25" stroke-opacity="0.6" filter="url(#cb)"/>
<circle cx="216.06" cy="379.06" r="2.51" fill="#8070d8" opacity="0.85" stroke="#fff" stroke-width="0.25" stroke-opacity="0.6" filter="url(#cb)"/>
<circle cx="218.10" cy="382.11" r="2.51" fill="#8070d8" opacity="0.85" stroke="#fff" stroke-width="0.25" stroke-opacity="0.6" filter="url(#cb)"/>
<circle cx="221.15" cy="376.52" r="2.51" fill="#8070d8" opacity="0.85" stroke="#fff" stroke-width="0.25" stroke-opacity="0.6" filter="url(#cb)"/>
<circle cx="224.20" cy="377.53" r="2.51" fill="#8070d8" opacity="0.85" stroke="#fff" stroke-width="0.25" stroke-opacity="0.6" filter="url(#cb)"/>
<circle cx="227.76" cy="378.04" r="2.51" fill="#8070d8" opacity="0.85" stroke="#fff" stroke-width="0.25" stroke-opacity="0.6" filter="url(#cb)"/>
<circle cx="230.30" cy="378.55" r="2.51" fill="#8070d8" opacity="0.85" stroke="#fff" stroke-width="0.25" stroke-opacity="0.6" filter="url(#cb)"/>
<circle cx="226.74" cy="382.11" r="2.51" fill="#8070d8" opacity="0.85" stroke="#fff" stroke-width="0.25" stroke-opacity="0.6" filter="url(#cb)"/>
<circle cx="225.22" cy="383.13" r="2.51" fill="#8070d8" opacity="0.85" stroke="#fff" stroke-width="0.25" stroke-opacity="0.6" filter="url(#cb)"/>
<circle cx="221.89" cy="355.79" r="1.68" fill="#4028c0" opacity="0.9" filter="url(#cb)"/>
<circle cx="225.24" cy="352.01" r="1.59" fill="#4028c0" opacity="0.9" filter="url(#cb)"/>
<circle cx="230.31" cy="352.76" r="1.59" fill="#4028c0" opacity="0.9" filter="url(#cb)"/>
<circle cx="233.51" cy="353.31" r="1.72" fill="#4028c0" opacity="0.9" filter="url(#cb)"/>
<circle cx="237.17" cy="354.36" r="1.71" fill="#4028c0" opacity="0.9" filter="url(#cb)"/>
<circle cx="228.37" cy="358.57" r="1.64" fill="#4028c0" opacity="0.9" filter="url(#cb)"/>
<circle cx="231.74" cy="358.09" r="1.77" fill="#4028c0" opacity="0.9" filter="url(#cb)"/>
<circle cx="235.67" cy="358.05" r="1.58" fill="#4028c0" opacity="0.9" filter="url(#cb)"/>
<circle cx="238.64" cy="357.55" r="1.62" fill="#4028c0" opacity="0.9" filter="url(#cb)"/>
<circle cx="241.23" cy="359.30" r="1.85" fill="#4028c0" opacity="0.9" filter="url(#cb)"/>
<circle cx="229.69" cy="361.81" r="1.79" fill="#4028c0" opacity="0.9" filter="url(#cb)"/>
<circle cx="233.00" cy="361.54" r="1.59" fill="#4028c0" opacity="0.9" filter="url(#cb)"/>
<circle cx="236.85" cy="362.13" r="1.80" fill="#4028c0" opacity="0.9" filter="url(#cb)"/>
<circle cx="240.43" cy="362.63" r="1.77" fill="#4028c0" opacity="0.9" filter="url(#cb)"/>
<circle cx="243.68" cy="364.11" r="1.84" fill="#4028c0" opacity="0.9" filter="url(#cb)"/>
<circle cx="228.29" cy="365.12" r="1.76" fill="#4028c0" opacity="0.9" filter="url(#cb)"/>
<circle cx="231.65" cy="365.72" r="1.82" fill="#4028c0" opacity="0.9" filter="url(#cb)"/>
<circle cx="235.32" cy="365.54" r="1.61" fill="#4028c0" opacity="0.9" filter="url(#cb)"/>
<circle cx="239.44" cy="365.47" r="1.62" fill="#4028c0" opacity="0.9" filter="url(#cb)"/>
<circle cx="242.71" cy="366.92" r="1.80" fill="#4028c0" opacity="0.9" filter="url(#cb)"/>
<circle cx="246.42" cy="362.95" r="1.87" fill="#4028c0" opacity="0.9" filter="url(#cb)"/>
<circle cx="249.17" cy="364.28" r="1.77" fill="#4028c0" opacity="0.9" filter="url(#cb)"/>
<circle cx="252.01" cy="366.33" r="1.86" fill="#4028c0" opacity="0.9" filter="url(#cb)"/>
<circle cx="253.84" cy="368.04" r="1.80" fill="#4028c0" opacity="0.9" filter="url(#cb)"/>
<circle cx="227.64" cy="369.15" r="1.79" fill="#4028c0" opacity="0.9" filter="url(#cb)"/>
<circle cx="230.21" cy="370.04" r="1.66" fill="#4028c0" opacity="0.9" filter="url(#cb)"/>
<circle cx="234.34" cy="368.12" r="1.57" fill="#4028c0" opacity="0.9" filter="url(#cb)"/>
<circle cx="223.85" cy="370.63" r="1.61" fill="#4028c0" opacity="0.9" filter="url(#cb)"/>
<circle cx="237.72" cy="368.80" r="1.61" fill="#4028c0" opacity="0.9" filter="url(#cb)"/>
<circle cx="245.22" cy="370.38" r="1.87" fill="#4028c0" opacity="0.9" filter="url(#cb)"/>
<circle cx="248.91" cy="371.69" r="1.76" fill="#4028c0" opacity="0.9" filter="url(#cb)"/>
<circle cx="251.47" cy="371.37" r="1.87" fill="#4028c0" opacity="0.9" filter="url(#cb)"/>
<circle cx="255.01" cy="372.82" r="1.69" fill="#4028c0" opacity="0.9" filter="url(#cb)"/>
<circle cx="246.31" cy="374.27" r="1.62" fill="#4028c0" opacity="0.9" filter="url(#cb)"/>
<circle cx="250.11" cy="375.57" r="1.65" fill="#4028c0" opacity="0.9" filter="url(#cb)"/>
<circle cx="253.29" cy="377.47" r="1.66" fill="#4028c0" opacity="0.9" filter="url(#cb)"/>
<circle cx="250.69" cy="381.46" r="1.69" fill="#4028c0" opacity="0.9" filter="url(#cb)"/>
<circle cx="252.68" cy="382.71" r="1.80" fill="#4028c0" opacity="0.9" filter="url(#cb)"/>
<circle cx="215.20" cy="375.82" r="1.80" fill="#4028c0" opacity="0.9" filter="url(#cb)"/>
<circle cx="216.36" cy="379.30" r="1.84" fill="#4028c0" opacity="0.9" filter="url(#cb)"/>
<circle cx="218.02" cy="381.79" r="1.70" fill="#4028c0" opacity="0.9" filter="url(#cb)"/>
<circle cx="220.80" cy="376.17" r="1.79" fill="#4028c0" opacity="0.9" filter="url(#cb)"/>
<circle cx="223.93" cy="377.41" r="1.64" fill="#4028c0" opacity="0.9" filter="url(#cb)"/>
<circle cx="227.36" cy="377.76" r="1.58" fill="#4028c0" opacity="0.9" filter="url(#cb)"/>
<circle cx="230.19" cy="378.17" r="1.60" fill="#4028c0" opacity="0.9" filter="url(#cb)"/>
<circle cx="226.83" cy="381.83" r="1.87" fill="#4028c0" opacity="0.9" filter="url(#cb)"/>
<circle cx="225.09" cy="383.02" r="1.65" fill="#4028c0" opacity="0.9" filter="url(#cb)"/>
</g>
<rect x="212.20" y="345.20" width="48.40" height="48.20" fill="none" stroke="#111" stroke-width="1.3"/>
<clipPath id="c01"><rect x="263.40" y="345.20" width="47.80" height="48.20"/></clipPath>
<rect x="263.40" y="345.20" width="47.80" height="48.20" fill="#f8f7f7" stroke="none" stroke-width="1"/>
<g clip-path="url(#c01)">
<circle cx="267.22" cy="349.52" r="3.25" fill="#9c8ce0" opacity="0.85" stroke="#fff" stroke-width="0.25" stroke-opacity="0.6" filter="url(#cb)"/>
<circle cx="272.24" cy="350.52" r="3.25" fill="#9c8ce0" opacity="0.85" stroke="#fff" stroke-width="0.25" stroke-opacity="0.6" filter="url(#cb)"/>
<circle cx="268.72" cy="354.04" r="3.25" fill="#9c8ce0" opacity="0.85" stroke="#fff" stroke-width="0.25" stroke-opacity="0.6" filter="url(#cb)"/>
<circle cx="283.28" cy="355.54" r="3.25" fill="#9c8ce0" opacity="0.85" stroke="#fff" stroke-width="0.25" stroke-opacity="0.6" filter="url(#cb)"/>
<circle cx="282.78" cy="359.56" r="3.25" fill="#9c8ce0" opacity="0.85" stroke="#fff" stroke-width="0.25" stroke-opacity="0.6" filter="url(#cb)"/>
<circle cx="287.30" cy="359.06" r="3.25" fill="#9c8ce0" opacity="0.85" stroke="#fff" stroke-width="0.25" stroke-opacity="0.6" filter="url(#cb)"/>
<circle cx="291.32" cy="359.06" r="3.25" fill="#9c8ce0" opacity="0.85" stroke="#fff" stroke-width="0.25" stroke-opacity="0.6" filter="url(#cb)"/>
<circle cx="293.33" cy="361.57" r="3.25" fill="#9c8ce0" opacity="0.85" stroke="#fff" stroke-width="0.25" stroke-opacity="0.6" filter="url(#cb)"/>
<circle cx="286.30" cy="363.07" r="3.25" fill="#9c8ce0" opacity="0.85" stroke="#fff" stroke-width="0.25" stroke-opacity="0.6" filter="url(#cb)"/>
<circle cx="282.28" cy="364.08" r="3.25" fill="#9c8ce0" opacity="0.85" stroke="#fff" stroke-width="0.25" stroke-opacity="0.6" filter="url(#cb)"/>
<circle cx="288.30" cy="364.58" r="3.25" fill="#9c8ce0" opacity="0.85" stroke="#fff" stroke-width="0.25" stroke-opacity="0.6" filter="url(#cb)"/>
<circle cx="273.24" cy="366.59" r="3.25" fill="#9c8ce0" opacity="0.85" stroke="#fff" stroke-width="0.25" stroke-opacity="0.6" filter="url(#cb)"/>
<circle cx="277.76" cy="368.60" r="3.25" fill="#9c8ce0" opacity="0.85" stroke="#fff" stroke-width="0.25" stroke-opacity="0.6" filter="url(#cb)"/>
<circle cx="281.27" cy="367.59" r="3.25" fill="#9c8ce0" opacity="0.85" stroke="#fff" stroke-width="0.25" stroke-opacity="0.6" filter="url(#cb)"/>
<circle cx="270.23" cy="372.11" r="3.25" fill="#9c8ce0" opacity="0.85" stroke="#fff" stroke-width="0.25" stroke-opacity="0.6" filter="url(#cb)"/>
<circle cx="274.25" cy="372.11" r="3.25" fill="#9c8ce0" opacity="0.85" stroke="#fff" stroke-width="0.25" stroke-opacity="0.6" filter="url(#cb)"/>
<circle cx="278.26" cy="372.61" r="3.25" fill="#9c8ce0" opacity="0.85" stroke="#fff" stroke-width="0.25" stroke-opacity="0.6" filter="url(#cb)"/>
<circle cx="282.28" cy="374.12" r="3.25" fill="#9c8ce0" opacity="0.85" stroke="#fff" stroke-width="0.25" stroke-opacity="0.6" filter="url(#cb)"/>
<circle cx="286.30" cy="376.13" r="3.25" fill="#9c8ce0" opacity="0.85" stroke="#fff" stroke-width="0.25" stroke-opacity="0.6" filter="url(#cb)"/>
<circle cx="290.31" cy="376.63" r="3.25" fill="#9c8ce0" opacity="0.85" stroke="#fff" stroke-width="0.25" stroke-opacity="0.6" filter="url(#cb)"/>
<circle cx="294.33" cy="375.13" r="3.25" fill="#9c8ce0" opacity="0.85" stroke="#fff" stroke-width="0.25" stroke-opacity="0.6" filter="url(#cb)"/>
<circle cx="279.27" cy="379.14" r="3.25" fill="#9c8ce0" opacity="0.85" stroke="#fff" stroke-width="0.25" stroke-opacity="0.6" filter="url(#cb)"/>
<circle cx="283.28" cy="379.64" r="3.25" fill="#9c8ce0" opacity="0.85" stroke="#fff" stroke-width="0.25" stroke-opacity="0.6" filter="url(#cb)"/>
<circle cx="300.35" cy="366.59" r="3.25" fill="#9c8ce0" opacity="0.85" stroke="#fff" stroke-width="0.25" stroke-opacity="0.6" filter="url(#cb)"/>
<circle cx="304.37" cy="371.11" r="3.25" fill="#9c8ce0" opacity="0.85" stroke="#fff" stroke-width="0.25" stroke-opacity="0.6" filter="url(#cb)"/>
<circle cx="301.36" cy="375.13" r="3.25" fill="#9c8ce0" opacity="0.85" stroke="#fff" stroke-width="0.25" stroke-opacity="0.6" filter="url(#cb)"/>
<circle cx="303.37" cy="375.13" r="3.25" fill="#9c8ce0" opacity="0.85" stroke="#fff" stroke-width="0.25" stroke-opacity="0.6" filter="url(#cb)"/>
<circle cx="288.30" cy="386.67" r="3.25" fill="#9c8ce0" opacity="0.85" stroke="#fff" stroke-width="0.25" stroke-opacity="0.6" filter="url(#cb)"/>
<circle cx="266.71" cy="386.67" r="3.25" fill="#9c8ce0" opacity="0.85" stroke="#fff" stroke-width="0.25" stroke-opacity="0.6" filter="url(#cb)"/>
<circle cx="271.23" cy="388.18" r="3.25" fill="#9c8ce0" opacity="0.85" stroke="#fff" stroke-width="0.25" stroke-opacity="0.6" filter="url(#cb)"/>
<circle cx="276.25" cy="388.18" r="3.25" fill="#9c8ce0" opacity="0.85" stroke="#fff" stroke-width="0.25" stroke-opacity="0.6" filter="url(#cb)"/>
<circle cx="279.27" cy="389.18" r="3.25" fill="#9c8ce0" opacity="0.85" stroke="#fff" stroke-width="0.25" stroke-opacity="0.6" filter="url(#cb)"/>
<circle cx="308.39" cy="385.67" r="3.25" fill="#9c8ce0" opacity="0.85" stroke="#fff" stroke-width="0.25" stroke-opacity="0.6" filter="url(#cb)"/>
<circle cx="267.50" cy="349.91" r="1.88" fill="#5840c8" opacity="0.9" filter="url(#cb)"/>
<circle cx="272.22" cy="350.19" r="2.02" fill="#5840c8" opacity="0.9" filter="url(#cb)"/>
<circle cx="268.60" cy="353.85" r="1.87" fill="#5840c8" opacity="0.9" filter="url(#cb)"/>
<circle cx="283.01" cy="355.16" r="2.17" fill="#5840c8" opacity="0.9" filter="url(#cb)"/>
<circle cx="282.80" cy="359.28" r="2.22" fill="#5840c8" opacity="0.9" filter="url(#cb)"/>
<circle cx="286.92" cy="359.08" r="2.05" fill="#5840c8" opacity="0.9" filter="url(#cb)"/>
<circle cx="291.61" cy="359.21" r="2.23" fill="#5840c8" opacity="0.9" filter="url(#cb)"/>
<circle cx="293.22" cy="361.30" r="1.94" fill="#5840c8" opacity="0.9" filter="url(#cb)"/>
<circle cx="286.32" cy="363.30" r="2.14" fill="#5840c8" opacity="0.9" filter="url(#cb)"/>
<circle cx="282.06" cy="364.33" r="1.96" fill="#5840c8" opacity="0.9" filter="url(#cb)"/>
<circle cx="288.59" cy="364.83" r="2.23" fill="#5840c8" opacity="0.9" filter="url(#cb)"/>
<circle cx="273.43" cy="366.37" r="2.16" fill="#5840c8" opacity="0.9" filter="url(#cb)"/>
<circle cx="277.64" cy="368.22" r="2.04" fill="#5840c8" opacity="0.9" filter="url(#cb)"/>
<circle cx="281.10" cy="367.40" r="1.84" fill="#5840c8" opacity="0.9" filter="url(#cb)"/>
<circle cx="270.59" cy="372.07" r="2.11" fill="#5840c8" opacity="0.9" filter="url(#cb)"/>
<circle cx="274.64" cy="372.48" r="2.21" fill="#5840c8" opacity="0.9" filter="url(#cb)"/>
<circle cx="278.04" cy="372.40" r="1.98" fill="#5840c8" opacity="0.9" filter="url(#cb)"/>
<circle cx="282.04" cy="374.22" r="1.91" fill="#5840c8" opacity="0.9" filter="url(#cb)"/>
<circle cx="286.57" cy="376.11" r="2.20" fill="#5840c8" opacity="0.9" filter="url(#cb)"/>
<circle cx="290.55" cy="376.30" r="2.10" fill="#5840c8" opacity="0.9" filter="url(#cb)"/>
<circle cx="294.66" cy="375.35" r="2.10" fill="#5840c8" opacity="0.9" filter="url(#cb)"/>
<circle cx="279.25" cy="378.88" r="2.14" fill="#5840c8" opacity="0.9" filter="url(#cb)"/>
<circle cx="283.15" cy="379.88" r="2.15" fill="#5840c8" opacity="0.9" filter="url(#cb)"/>
<circle cx="300.27" cy="366.51" r="2.23" fill="#5840c8" opacity="0.9" filter="url(#cb)"/>
<circle cx="304.55" cy="370.84" r="2.22" fill="#5840c8" opacity="0.9" filter="url(#cb)"/>
<circle cx="301.08" cy="375.45" r="1.88" fill="#5840c8" opacity="0.9" filter="url(#cb)"/>
<circle cx="303.08" cy="375.39" r="2.16" fill="#5840c8" opacity="0.9" filter="url(#cb)"/>
<circle cx="288.43" cy="386.55" r="2.23" fill="#5840c8" opacity="0.9" filter="url(#cb)"/>
<circle cx="266.42" cy="386.28" r="2.05" fill="#5840c8" opacity="0.9" filter="url(#cb)"/>
<circle cx="271.35" cy="388.20" r="2.23" fill="#5840c8" opacity="0.9" filter="url(#cb)"/>
<circle cx="276.20" cy="388.48" r="2.21" fill="#5840c8" opacity="0.9" filter="url(#cb)"/>
<circle cx="279.04" cy="388.99" r="2.17" fill="#5840c8" opacity="0.9" filter="url(#cb)"/>
<circle cx="308.18" cy="385.74" r="1.95" fill="#5840c8" opacity="0.9" filter="url(#cb)"/>
</g>
<rect x="263.40" y="345.20" width="47.80" height="48.20" fill="none" stroke="#111" stroke-width="1.3"/>
<clipPath id="c02"><rect x="314.30" y="345.20" width="48.70" height="48.20"/></clipPath>
<rect x="314.30" y="345.20" width="48.70" height="48.20" fill="#f8f7f7" stroke="none" stroke-width="1"/>
<g clip-path="url(#c02)">
<circle cx="326.37" cy="363.41" r="3.20" fill="#a890e0" opacity="0.85" stroke="#fff" stroke-width="0.25" stroke-opacity="0.6" filter="url(#cb)"/>
<circle cx="335.58" cy="368.53" r="3.20" fill="#a890e0" opacity="0.85" stroke="#fff" stroke-width="0.25" stroke-opacity="0.6" filter="url(#cb)"/>
<circle cx="341.72" cy="366.48" r="3.20" fill="#a890e0" opacity="0.85" stroke="#fff" stroke-width="0.25" stroke-opacity="0.6" filter="url(#cb)"/>
<circle cx="345.81" cy="368.53" r="3.20" fill="#a890e0" opacity="0.85" stroke="#fff" stroke-width="0.25" stroke-opacity="0.6" filter="url(#cb)"/>
<circle cx="332.51" cy="373.64" r="3.20" fill="#a890e0" opacity="0.85" stroke="#fff" stroke-width="0.25" stroke-opacity="0.6" filter="url(#cb)"/>
<circle cx="337.63" cy="373.64" r="3.20" fill="#a890e0" opacity="0.85" stroke="#fff" stroke-width="0.25" stroke-opacity="0.6" filter="url(#cb)"/>
<circle cx="342.74" cy="372.62" r="3.20" fill="#a890e0" opacity="0.85" stroke="#fff" stroke-width="0.25" stroke-opacity="0.6" filter="url(#cb)"/>
<circle cx="340.70" cy="378.76" r="3.20" fill="#a890e0" opacity="0.85" stroke="#fff" stroke-width="0.25" stroke-opacity="0.6" filter="url(#cb)"/>
<circle cx="335.58" cy="384.90" r="3.20" fill="#a890e0" opacity="0.85" stroke="#fff" stroke-width="0.25" stroke-opacity="0.6" filter="url(#cb)"/>
<circle cx="341.72" cy="385.92" r="3.20" fill="#a890e0" opacity="0.85" stroke="#fff" stroke-width="0.25" stroke-opacity="0.6" filter="url(#cb)"/>
<circle cx="328.93" cy="347.55" r="3.20" fill="#a890e0" opacity="0.85" stroke="#fff" stroke-width="0.25" stroke-opacity="0.6" filter="url(#cb)"/>
<circle cx="332.51" cy="348.58" r="3.20" fill="#a890e0" opacity="0.85" stroke="#fff" stroke-width="0.25" stroke-opacity="0.6" filter="url(#cb)"/>
<circle cx="335.07" cy="352.16" r="3.20" fill="#a890e0" opacity="0.85" stroke="#fff" stroke-width="0.25" stroke-opacity="0.6" filter="url(#cb)"/>
<circle cx="339.67" cy="354.71" r="3.20" fill="#a890e0" opacity="0.85" stroke="#fff" stroke-width="0.25" stroke-opacity="0.6" filter="url(#cb)"/>
<circle cx="331.49" cy="356.25" r="3.20" fill="#a890e0" opacity="0.85" stroke="#fff" stroke-width="0.25" stroke-opacity="0.6" filter="url(#cb)"/>
<circle cx="328.42" cy="361.37" r="3.20" fill="#a890e0" opacity="0.85" stroke="#fff" stroke-width="0.25" stroke-opacity="0.6" filter="url(#cb)"/>
<circle cx="332.51" cy="360.85" r="3.20" fill="#a890e0" opacity="0.85" stroke="#fff" stroke-width="0.25" stroke-opacity="0.6" filter="url(#cb)"/>
<circle cx="336.09" cy="359.83" r="3.20" fill="#a890e0" opacity="0.85" stroke="#fff" stroke-width="0.25" stroke-opacity="0.6" filter="url(#cb)"/>
<circle cx="329.95" cy="365.97" r="3.20" fill="#a890e0" opacity="0.85" stroke="#fff" stroke-width="0.25" stroke-opacity="0.6" filter="url(#cb)"/>
<circle cx="334.05" cy="366.48" r="3.20" fill="#a890e0" opacity="0.85" stroke="#fff" stroke-width="0.25" stroke-opacity="0.6" filter="url(#cb)"/>
<circle cx="337.63" cy="365.46" r="3.20" fill="#a890e0" opacity="0.85" stroke="#fff" stroke-width="0.25" stroke-opacity="0.6" filter="url(#cb)"/>
<circle cx="341.72" cy="363.41" r="3.20" fill="#a890e0" opacity="0.85" stroke="#fff" stroke-width="0.25" stroke-opacity="0.6" filter="url(#cb)"/>
<circle cx="344.79" cy="362.39" r="3.20" fill="#a890e0" opacity="0.85" stroke="#fff" stroke-width="0.25" stroke-opacity="0.6" filter="url(#cb)"/>
<circle cx="338.65" cy="370.06" r="3.20" fill="#a890e0" opacity="0.85" stroke="#fff" stroke-width="0.25" stroke-opacity="0.6" filter="url(#cb)"/>
<circle cx="342.74" cy="369.04" r="3.20" fill="#a890e0" opacity="0.85" stroke="#fff" stroke-width="0.25" stroke-opacity="0.6" filter="url(#cb)"/>
<circle cx="347.86" cy="371.60" r="3.20" fill="#a890e0" opacity="0.85" stroke="#fff" stroke-width="0.25" stroke-opacity="0.6" filter="url(#cb)"/>
<circle cx="351.95" cy="370.06" r="3.20" fill="#a890e0" opacity="0.85" stroke="#fff" stroke-width="0.25" stroke-opacity="0.6" filter="url(#cb)"/>
<circle cx="340.70" cy="375.69" r="3.20" fill="#a890e0" opacity="0.85" stroke="#fff" stroke-width="0.25" stroke-opacity="0.6" filter="url(#cb)"/>
<circle cx="343.77" cy="373.64" r="3.20" fill="#a890e0" opacity="0.85" stroke="#fff" stroke-width="0.25" stroke-opacity="0.6" filter="url(#cb)"/>
<circle cx="337.63" cy="377.22" r="3.20" fill="#a890e0" opacity="0.85" stroke="#fff" stroke-width="0.25" stroke-opacity="0.6" filter="url(#cb)"/>
<circle cx="336.60" cy="382.34" r="3.20" fill="#a890e0" opacity="0.85" stroke="#fff" stroke-width="0.25" stroke-opacity="0.6" filter="url(#cb)"/>
<circle cx="340.70" cy="382.85" r="3.20" fill="#a890e0" opacity="0.85" stroke="#fff" stroke-width="0.25" stroke-opacity="0.6" filter="url(#cb)"/>
<circle cx="337.63" cy="387.97" r="3.20" fill="#a890e0" opacity="0.85" stroke="#fff" stroke-width="0.25" stroke-opacity="0.6" filter="url(#cb)"/>
<circle cx="354.00" cy="361.37" r="3.20" fill="#a890e0" opacity="0.85" stroke="#fff" stroke-width="0.25" stroke-opacity="0.6" filter="url(#cb)"/>
<circle cx="358.09" cy="360.85" r="3.20" fill="#a890e0" opacity="0.85" stroke="#fff" stroke-width="0.25" stroke-opacity="0.6" filter="url(#cb)"/>
<circle cx="359.11" cy="384.39" r="3.20" fill="#a890e0" opacity="0.85" stroke="#fff" stroke-width="0.25" stroke-opacity="0.6" filter="url(#cb)"/>
<circle cx="322.28" cy="390.52" r="3.20" fill="#a890e0" opacity="0.85" stroke="#fff" stroke-width="0.25" stroke-opacity="0.6" filter="url(#cb)"/>
<circle cx="334.56" cy="390.01" r="3.20" fill="#a890e0" opacity="0.85" stroke="#fff" stroke-width="0.25" stroke-opacity="0.6" filter="url(#cb)"/>
<circle cx="326.31" cy="363.12" r="1.83" fill="#6a3cc8" opacity="0.9" filter="url(#cb)"/>
<circle cx="335.46" cy="368.49" r="2.08" fill="#6a3cc8" opacity="0.9" filter="url(#cb)"/>
<circle cx="342.04" cy="366.42" r="1.95" fill="#6a3cc8" opacity="0.9" filter="url(#cb)"/>
<circle cx="345.81" cy="368.55" r="2.08" fill="#6a3cc8" opacity="0.9" filter="url(#cb)"/>
<circle cx="332.13" cy="373.59" r="1.93" fill="#6a3cc8" opacity="0.9" filter="url(#cb)"/>
<circle cx="337.23" cy="373.88" r="1.80" fill="#6a3cc8" opacity="0.9" filter="url(#cb)"/>
<circle cx="342.72" cy="372.80" r="1.79" fill="#6a3cc8" opacity="0.9" filter="url(#cb)"/>
<circle cx="340.56" cy="378.77" r="1.94" fill="#6a3cc8" opacity="0.9" filter="url(#cb)"/>
<circle cx="335.81" cy="384.58" r="1.94" fill="#6a3cc8" opacity="0.9" filter="url(#cb)"/>
<circle cx="341.52" cy="385.74" r="1.94" fill="#6a3cc8" opacity="0.9" filter="url(#cb)"/>
<circle cx="328.94" cy="347.60" r="2.02" fill="#6a3cc8" opacity="0.9" filter="url(#cb)"/>
<circle cx="332.84" cy="348.53" r="2.02" fill="#6a3cc8" opacity="0.9" filter="url(#cb)"/>
<circle cx="335.07" cy="352.17" r="1.96" fill="#6a3cc8" opacity="0.9" filter="url(#cb)"/>
<circle cx="339.63" cy="354.74" r="1.99" fill="#6a3cc8" opacity="0.9" filter="url(#cb)"/>
<circle cx="331.84" cy="356.41" r="1.91" fill="#6a3cc8" opacity="0.9" filter="url(#cb)"/>
<circle cx="328.77" cy="361.17" r="2.06" fill="#6a3cc8" opacity="0.9" filter="url(#cb)"/>
<circle cx="332.87" cy="361.13" r="1.94" fill="#6a3cc8" opacity="0.9" filter="url(#cb)"/>
<circle cx="335.79" cy="359.78" r="1.78" fill="#6a3cc8" opacity="0.9" filter="url(#cb)"/>
<circle cx="329.75" cy="365.63" r="1.75" fill="#6a3cc8" opacity="0.9" filter="url(#cb)"/>
<circle cx="334.27" cy="366.80" r="1.98" fill="#6a3cc8" opacity="0.9" filter="url(#cb)"/>
<circle cx="337.80" cy="365.59" r="1.79" fill="#6a3cc8" opacity="0.9" filter="url(#cb)"/>
<circle cx="342.03" cy="363.79" r="1.78" fill="#6a3cc8" opacity="0.9" filter="url(#cb)"/>
<circle cx="345.15" cy="362.31" r="1.81" fill="#6a3cc8" opacity="0.9" filter="url(#cb)"/>
<circle cx="339.04" cy="370.33" r="1.91" fill="#6a3cc8" opacity="0.9" filter="url(#cb)"/>
<circle cx="342.69" cy="369.05" r="1.79" fill="#6a3cc8" opacity="0.9" filter="url(#cb)"/>
<circle cx="347.61" cy="371.45" r="1.86" fill="#6a3cc8" opacity="0.9" filter="url(#cb)"/>
<circle cx="351.57" cy="370.10" r="2.00" fill="#6a3cc8" opacity="0.9" filter="url(#cb)"/>
<circle cx="340.31" cy="375.55" r="1.90" fill="#6a3cc8" opacity="0.9" filter="url(#cb)"/>
<circle cx="343.78" cy="373.29" r="1.97" fill="#6a3cc8" opacity="0.9" filter="url(#cb)"/>
<circle cx="337.86" cy="377.60" r="2.10" fill="#6a3cc8" opacity="0.9" filter="url(#cb)"/>
<circle cx="336.42" cy="381.97" r="1.77" fill="#6a3cc8" opacity="0.9" filter="url(#cb)"/>
<circle cx="340.51" cy="382.55" r="2.03" fill="#6a3cc8" opacity="0.9" filter="url(#cb)"/>
<circle cx="337.96" cy="388.22" r="1.89" fill="#6a3cc8" opacity="0.9" filter="url(#cb)"/>
<circle cx="353.72" cy="361.70" r="1.83" fill="#6a3cc8" opacity="0.9" filter="url(#cb)"/>
<circle cx="358.25" cy="360.53" r="1.95" fill="#6a3cc8" opacity="0.9" filter="url(#cb)"/>
<circle cx="359.26" cy="384.33" r="1.75" fill="#6a3cc8" opacity="0.9" filter="url(#cb)"/>
<circle cx="322.63" cy="390.63" r="1.75" fill="#6a3cc8" opacity="0.9" filter="url(#cb)"/>
<circle cx="334.22" cy="390.30" r="2.03" fill="#6a3cc8" opacity="0.9" filter="url(#cb)"/>
</g>
<rect x="314.30" y="345.20" width="48.70" height="48.20" fill="none" stroke="#111" stroke-width="1.3"/>
<clipPath id="c10"><rect x="212.20" y="395.60" width="48.40" height="47.50"/></clipPath>
<rect x="212.20" y="395.60" width="48.40" height="47.50" fill="#f8f7f7" stroke="none" stroke-width="1"/>
<g clip-path="url(#c10)">
<circle cx="234.37" cy="402.01" r="2.91" fill="#8070d8" opacity="0.85" stroke="#fff" stroke-width="0.25" stroke-opacity="0.6" filter="url(#cb)"/>
<circle cx="238.43" cy="405.56" r="2.91" fill="#8070d8" opacity="0.85" stroke="#fff" stroke-width="0.25" stroke-opacity="0.6" filter="url(#cb)"/>
<circle cx="235.38" cy="408.62" r="2.91" fill="#8070d8" opacity="0.85" stroke="#fff" stroke-width="0.25" stroke-opacity="0.6" filter="url(#cb)"/>
<circle cx="243.52" cy="408.62" r="2.91" fill="#8070d8" opacity="0.85" stroke="#fff" stroke-width="0.25" stroke-opacity="0.6" filter="url(#cb)"/>
<circle cx="250.64" cy="411.16" r="2.91" fill="#8070d8" opacity="0.85" stroke="#fff" stroke-width="0.25" stroke-opacity="0.6" filter="url(#cb)"/>
<circle cx="217.59" cy="411.67" r="2.91" fill="#8070d8" opacity="0.85" stroke="#fff" stroke-width="0.25" stroke-opacity="0.6" filter="url(#cb)"/>
<circle cx="226.23" cy="414.72" r="2.91" fill="#8070d8" opacity="0.85" stroke="#fff" stroke-width="0.25" stroke-opacity="0.6" filter="url(#cb)"/>
<circle cx="230.30" cy="417.26" r="2.91" fill="#8070d8" opacity="0.85" stroke="#fff" stroke-width="0.25" stroke-opacity="0.6" filter="url(#cb)"/>
<circle cx="234.37" cy="415.73" r="2.91" fill="#8070d8" opacity="0.85" stroke="#fff" stroke-width="0.25" stroke-opacity="0.6" filter="url(#cb)"/>
<circle cx="238.43" cy="414.72" r="2.91" fill="#8070d8" opacity="0.85" stroke="#fff" stroke-width="0.25" stroke-opacity="0.6" filter="url(#cb)"/>
<circle cx="242.50" cy="413.70" r="2.91" fill="#8070d8" opacity="0.85" stroke="#fff" stroke-width="0.25" stroke-opacity="0.6" filter="url(#cb)"/>
<circle cx="227.25" cy="420.31" r="2.91" fill="#8070d8" opacity="0.85" stroke="#fff" stroke-width="0.25" stroke-opacity="0.6" filter="url(#cb)"/>
<circle cx="231.32" cy="421.83" r="2.91" fill="#8070d8" opacity="0.85" stroke="#fff" stroke-width="0.25" stroke-opacity="0.6" filter="url(#cb)"/>
<circle cx="235.38" cy="420.31" r="2.91" fill="#8070d8" opacity="0.85" stroke="#fff" stroke-width="0.25" stroke-opacity="0.6" filter="url(#cb)"/>
<circle cx="239.45" cy="421.83" r="2.91" fill="#8070d8" opacity="0.85" stroke="#fff" stroke-width="0.25" stroke-opacity="0.6" filter="url(#cb)"/>
<circle cx="226.23" cy="425.90" r="2.91" fill="#8070d8" opacity="0.85" stroke="#fff" stroke-width="0.25" stroke-opacity="0.6" filter="url(#cb)"/>
<circle cx="230.30" cy="426.41" r="2.91" fill="#8070d8" opacity="0.85" stroke="#fff" stroke-width="0.25" stroke-opacity="0.6" filter="url(#cb)"/>
<circle cx="234.37" cy="425.90" r="2.91" fill="#8070d8" opacity="0.85" stroke="#fff" stroke-width="0.25" stroke-opacity="0.6" filter="url(#cb)"/>
<circle cx="238.43" cy="426.92" r="2.91" fill="#8070d8" opacity="0.85" stroke="#fff" stroke-width="0.25" stroke-opacity="0.6" filter="url(#cb)"/>
<circle cx="228.27" cy="430.48" r="2.91" fill="#8070d8" opacity="0.85" stroke="#fff" stroke-width="0.25" stroke-opacity="0.6" filter="url(#cb)"/>
<circle cx="232.33" cy="430.98" r="2.91" fill="#8070d8" opacity="0.85" stroke="#fff" stroke-width="0.25" stroke-opacity="0.6" filter="url(#cb)"/>
<circle cx="236.40" cy="429.97" r="2.91" fill="#8070d8" opacity="0.85" stroke="#fff" stroke-width="0.25" stroke-opacity="0.6" filter="url(#cb)"/>
<circle cx="240.47" cy="429.97" r="2.91" fill="#8070d8" opacity="0.85" stroke="#fff" stroke-width="0.25" stroke-opacity="0.6" filter="url(#cb)"/>
<circle cx="244.53" cy="434.04" r="2.91" fill="#8070d8" opacity="0.85" stroke="#fff" stroke-width="0.25" stroke-opacity="0.6" filter="url(#cb)"/>
<circle cx="250.64" cy="434.54" r="2.91" fill="#8070d8" opacity="0.85" stroke="#fff" stroke-width="0.25" stroke-opacity="0.6" filter="url(#cb)"/>
<circle cx="225.22" cy="432.00" r="2.91" fill="#8070d8" opacity="0.85" stroke="#fff" stroke-width="0.25" stroke-opacity="0.6" filter="url(#cb)"/>
<circle cx="234.66" cy="401.97" r="1.74" fill="#4228c0" opacity="0.9" filter="url(#cb)"/>
<circle cx="238.48" cy="405.91" r="1.84" fill="#4228c0" opacity="0.9" filter="url(#cb)"/>
<circle cx="235.09" cy="408.64" r="1.81" fill="#4228c0" opacity="0.9" filter="url(#cb)"/>
<circle cx="243.21" cy="408.34" r="1.80" fill="#4228c0" opacity="0.9" filter="url(#cb)"/>
<circle cx="250.40" cy="411.01" r="1.73" fill="#4228c0" opacity="0.9" filter="url(#cb)"/>
<circle cx="217.80" cy="411.50" r="1.83" fill="#4228c0" opacity="0.9" filter="url(#cb)"/>
<circle cx="225.97" cy="414.59" r="1.90" fill="#4228c0" opacity="0.9" filter="url(#cb)"/>
<circle cx="230.10" cy="416.87" r="1.72" fill="#4228c0" opacity="0.9" filter="url(#cb)"/>
<circle cx="234.41" cy="415.48" r="1.99" fill="#4228c0" opacity="0.9" filter="url(#cb)"/>
<circle cx="238.78" cy="414.40" r="1.89" fill="#4228c0" opacity="0.9" filter="url(#cb)"/>
<circle cx="242.45" cy="413.70" r="2.02" fill="#4228c0" opacity="0.9" filter="url(#cb)"/>
<circle cx="227.16" cy="420.31" r="2.03" fill="#4228c0" opacity="0.9" filter="url(#cb)"/>
<circle cx="231.70" cy="421.71" r="1.97" fill="#4228c0" opacity="0.9" filter="url(#cb)"/>
<circle cx="235.55" cy="420.42" r="2.03" fill="#4228c0" opacity="0.9" filter="url(#cb)"/>
<circle cx="239.33" cy="421.48" r="1.87" fill="#4228c0" opacity="0.9" filter="url(#cb)"/>
<circle cx="225.89" cy="426.09" r="1.76" fill="#4228c0" opacity="0.9" filter="url(#cb)"/>
<circle cx="230.03" cy="426.08" r="1.81" fill="#4228c0" opacity="0.9" filter="url(#cb)"/>
<circle cx="234.66" cy="426.04" r="2.03" fill="#4228c0" opacity="0.9" filter="url(#cb)"/>
<circle cx="238.23" cy="426.75" r="1.82" fill="#4228c0" opacity="0.9" filter="url(#cb)"/>
<circle cx="227.99" cy="430.43" r="1.89" fill="#4228c0" opacity="0.9" filter="url(#cb)"/>
<circle cx="232.70" cy="431.36" r="1.81" fill="#4228c0" opacity="0.9" filter="url(#cb)"/>
<circle cx="236.20" cy="430.34" r="1.92" fill="#4228c0" opacity="0.9" filter="url(#cb)"/>
<circle cx="240.35" cy="429.57" r="1.83" fill="#4228c0" opacity="0.9" filter="url(#cb)"/>
<circle cx="244.51" cy="434.04" r="1.86" fill="#4228c0" opacity="0.9" filter="url(#cb)"/>
<circle cx="250.64" cy="434.15" r="1.79" fill="#4228c0" opacity="0.9" filter="url(#cb)"/>
<circle cx="224.89" cy="431.92" r="1.81" fill="#4228c0" opacity="0.9" filter="url(#cb)"/>
</g>
<rect x="212.20" y="395.60" width="48.40" height="47.50" fill="none" stroke="#111" stroke-width="1.3"/>
<clipPath id="c11"><rect x="263.40" y="395.60" width="47.80" height="47.50"/></clipPath>
<rect x="263.40" y="395.60" width="47.80" height="47.50" fill="#f8f7f7" stroke="none" stroke-width="1"/>
<g clip-path="url(#c11)">
<circle cx="267.22" cy="409.46" r="3.39" fill="#a080e0" opacity="0.85" stroke="#fff" stroke-width="0.25" stroke-opacity="0.6" filter="url(#cb)"/>
<circle cx="271.23" cy="409.96" r="3.39" fill="#a080e0" opacity="0.85" stroke="#fff" stroke-width="0.25" stroke-opacity="0.6" filter="url(#cb)"/>
<circle cx="276.25" cy="409.96" r="3.39" fill="#a080e0" opacity="0.85" stroke="#fff" stroke-width="0.25" stroke-opacity="0.6" filter="url(#cb)"/>
<circle cx="281.27" cy="409.96" r="3.39" fill="#a080e0" opacity="0.85" stroke="#fff" stroke-width="0.25" stroke-opacity="0.6" filter="url(#cb)"/>
<circle cx="286.30" cy="410.46" r="3.39" fill="#a080e0" opacity="0.85" stroke="#fff" stroke-width="0.25" stroke-opacity="0.6" filter="url(#cb)"/>
<circle cx="291.32" cy="411.47" r="3.39" fill="#a080e0" opacity="0.85" stroke="#fff" stroke-width="0.25" stroke-opacity="0.6" filter="url(#cb)"/>
<circle cx="295.33" cy="413.47" r="3.39" fill="#a080e0" opacity="0.85" stroke="#fff" stroke-width="0.25" stroke-opacity="0.6" filter="url(#cb)"/>
<circle cx="275.25" cy="420.50" r="3.39" fill="#a080e0" opacity="0.85" stroke="#fff" stroke-width="0.25" stroke-opacity="0.6" filter="url(#cb)"/>
<circle cx="290.31" cy="420.50" r="3.39" fill="#a080e0" opacity="0.85" stroke="#fff" stroke-width="0.25" stroke-opacity="0.6" filter="url(#cb)"/>
<circle cx="300.35" cy="415.48" r="3.39" fill="#a080e0" opacity="0.85" stroke="#fff" stroke-width="0.25" stroke-opacity="0.6" filter="url(#cb)"/>
<circle cx="275.25" cy="406.45" r="3.39" fill="#a080e0" opacity="0.85" stroke="#fff" stroke-width="0.25" stroke-opacity="0.6" filter="url(#cb)"/>
<circle cx="280.27" cy="407.45" r="3.39" fill="#a080e0" opacity="0.85" stroke="#fff" stroke-width="0.25" stroke-opacity="0.6" filter="url(#cb)"/>
<circle cx="285.29" cy="407.45" r="3.39" fill="#a080e0" opacity="0.85" stroke="#fff" stroke-width="0.25" stroke-opacity="0.6" filter="url(#cb)"/>
<circle cx="290.31" cy="408.45" r="3.39" fill="#a080e0" opacity="0.85" stroke="#fff" stroke-width="0.25" stroke-opacity="0.6" filter="url(#cb)"/>
<circle cx="294.33" cy="410.46" r="3.39" fill="#a080e0" opacity="0.85" stroke="#fff" stroke-width="0.25" stroke-opacity="0.6" filter="url(#cb)"/>
<circle cx="298.35" cy="412.97" r="3.39" fill="#a080e0" opacity="0.85" stroke="#fff" stroke-width="0.25" stroke-opacity="0.6" filter="url(#cb)"/>
<circle cx="268.22" cy="412.97" r="3.39" fill="#a080e0" opacity="0.85" stroke="#fff" stroke-width="0.25" stroke-opacity="0.6" filter="url(#cb)"/>
<circle cx="272.74" cy="411.97" r="3.39" fill="#a080e0" opacity="0.85" stroke="#fff" stroke-width="0.25" stroke-opacity="0.6" filter="url(#cb)"/>
<circle cx="277.76" cy="412.47" r="3.39" fill="#a080e0" opacity="0.85" stroke="#fff" stroke-width="0.25" stroke-opacity="0.6" filter="url(#cb)"/>
<circle cx="282.78" cy="412.47" r="3.39" fill="#a080e0" opacity="0.85" stroke="#fff" stroke-width="0.25" stroke-opacity="0.6" filter="url(#cb)"/>
<circle cx="287.80" cy="412.97" r="3.39" fill="#a080e0" opacity="0.85" stroke="#fff" stroke-width="0.25" stroke-opacity="0.6" filter="url(#cb)"/>
<circle cx="292.32" cy="413.98" r="3.39" fill="#a080e0" opacity="0.85" stroke="#fff" stroke-width="0.25" stroke-opacity="0.6" filter="url(#cb)"/>
<circle cx="269.22" cy="417.49" r="3.39" fill="#a080e0" opacity="0.85" stroke="#fff" stroke-width="0.25" stroke-opacity="0.6" filter="url(#cb)"/>
<circle cx="273.24" cy="417.99" r="3.39" fill="#a080e0" opacity="0.85" stroke="#fff" stroke-width="0.25" stroke-opacity="0.6" filter="url(#cb)"/>
<circle cx="278.26" cy="417.49" r="3.39" fill="#a080e0" opacity="0.85" stroke="#fff" stroke-width="0.25" stroke-opacity="0.6" filter="url(#cb)"/>
<circle cx="283.28" cy="417.99" r="3.39" fill="#a080e0" opacity="0.85" stroke="#fff" stroke-width="0.25" stroke-opacity="0.6" filter="url(#cb)"/>
<circle cx="287.80" cy="418.50" r="3.39" fill="#a080e0" opacity="0.85" stroke="#fff" stroke-width="0.25" stroke-opacity="0.6" filter="url(#cb)"/>
<circle cx="292.32" cy="418.50" r="3.39" fill="#a080e0" opacity="0.85" stroke="#fff" stroke-width="0.25" stroke-opacity="0.6" filter="url(#cb)"/>
<circle cx="296.34" cy="417.49" r="3.39" fill="#a080e0" opacity="0.85" stroke="#fff" stroke-width="0.25" stroke-opacity="0.6" filter="url(#cb)"/>
<circle cx="281.27" cy="421.51" r="3.39" fill="#a080e0" opacity="0.85" stroke="#fff" stroke-width="0.25" stroke-opacity="0.6" filter="url(#cb)"/>
<circle cx="286.30" cy="421.51" r="3.39" fill="#a080e0" opacity="0.85" stroke="#fff" stroke-width="0.25" stroke-opacity="0.6" filter="url(#cb)"/>
<circle cx="304.37" cy="414.48" r="3.39" fill="#a080e0" opacity="0.85" stroke="#fff" stroke-width="0.25" stroke-opacity="0.6" filter="url(#cb)"/>
<circle cx="307.38" cy="418.50" r="3.39" fill="#a080e0" opacity="0.85" stroke="#fff" stroke-width="0.25" stroke-opacity="0.6" filter="url(#cb)"/>
<circle cx="305.38" cy="423.52" r="3.39" fill="#a080e0" opacity="0.85" stroke="#fff" stroke-width="0.25" stroke-opacity="0.6" filter="url(#cb)"/>
<circle cx="304.37" cy="432.55" r="3.39" fill="#a080e0" opacity="0.85" stroke="#fff" stroke-width="0.25" stroke-opacity="0.6" filter="url(#cb)"/>
<circle cx="266.83" cy="409.30" r="1.85" fill="#6a30c0" opacity="0.9" filter="url(#cb)"/>
<circle cx="271.30" cy="409.98" r="1.92" fill="#6a30c0" opacity="0.9" filter="url(#cb)"/>
<circle cx="276.38" cy="410.13" r="2.14" fill="#6a30c0" opacity="0.9" filter="url(#cb)"/>
<circle cx="281.19" cy="409.82" r="2.19" fill="#6a30c0" opacity="0.9" filter="url(#cb)"/>
<circle cx="286.02" cy="410.64" r="2.23" fill="#6a30c0" opacity="0.9" filter="url(#cb)"/>
<circle cx="290.95" cy="411.73" r="2.09" fill="#6a30c0" opacity="0.9" filter="url(#cb)"/>
<circle cx="295.44" cy="413.66" r="2.19" fill="#6a30c0" opacity="0.9" filter="url(#cb)"/>
<circle cx="274.96" cy="420.52" r="2.16" fill="#6a30c0" opacity="0.9" filter="url(#cb)"/>
<circle cx="290.58" cy="420.75" r="2.04" fill="#6a30c0" opacity="0.9" filter="url(#cb)"/>
<circle cx="300.42" cy="415.80" r="2.17" fill="#6a30c0" opacity="0.9" filter="url(#cb)"/>
<circle cx="275.40" cy="406.23" r="2.11" fill="#6a30c0" opacity="0.9" filter="url(#cb)"/>
<circle cx="279.98" cy="407.34" r="1.84" fill="#6a30c0" opacity="0.9" filter="url(#cb)"/>
<circle cx="285.56" cy="407.50" r="1.87" fill="#6a30c0" opacity="0.9" filter="url(#cb)"/>
<circle cx="290.41" cy="408.60" r="2.09" fill="#6a30c0" opacity="0.9" filter="url(#cb)"/>
<circle cx="293.93" cy="410.70" r="2.03" fill="#6a30c0" opacity="0.9" filter="url(#cb)"/>
<circle cx="298.35" cy="413.00" r="2.13" fill="#6a30c0" opacity="0.9" filter="url(#cb)"/>
<circle cx="267.87" cy="413.16" r="2.10" fill="#6a30c0" opacity="0.9" filter="url(#cb)"/>
<circle cx="272.40" cy="411.78" r="1.93" fill="#6a30c0" opacity="0.9" filter="url(#cb)"/>
<circle cx="277.52" cy="412.66" r="2.13" fill="#6a30c0" opacity="0.9" filter="url(#cb)"/>
<circle cx="282.78" cy="412.38" r="2.23" fill="#6a30c0" opacity="0.9" filter="url(#cb)"/>
<circle cx="287.95" cy="413.19" r="2.02" fill="#6a30c0" opacity="0.9" filter="url(#cb)"/>
<circle cx="292.44" cy="413.64" r="2.08" fill="#6a30c0" opacity="0.9" filter="url(#cb)"/>
<circle cx="269.03" cy="417.69" r="1.89" fill="#6a30c0" opacity="0.9" filter="url(#cb)"/>
<circle cx="273.30" cy="417.60" r="1.95" fill="#6a30c0" opacity="0.9" filter="url(#cb)"/>
<circle cx="278.08" cy="417.63" r="1.85" fill="#6a30c0" opacity="0.9" filter="url(#cb)"/>
<circle cx="283.42" cy="417.83" r="2.11" fill="#6a30c0" opacity="0.9" filter="url(#cb)"/>
<circle cx="287.77" cy="418.47" r="2.04" fill="#6a30c0" opacity="0.9" filter="url(#cb)"/>
<circle cx="292.64" cy="418.26" r="1.88" fill="#6a30c0" opacity="0.9" filter="url(#cb)"/>
<circle cx="296.69" cy="417.11" r="2.23" fill="#6a30c0" opacity="0.9" filter="url(#cb)"/>
<circle cx="281.53" cy="421.88" r="2.02" fill="#6a30c0" opacity="0.9" filter="url(#cb)"/>
<circle cx="286.11" cy="421.28" r="2.01" fill="#6a30c0" opacity="0.9" filter="url(#cb)"/>
<circle cx="304.14" cy="414.54" r="2.21" fill="#6a30c0" opacity="0.9" filter="url(#cb)"/>
<circle cx="307.40" cy="418.86" r="1.89" fill="#6a30c0" opacity="0.9" filter="url(#cb)"/>
<circle cx="305.63" cy="423.52" r="1.88" fill="#6a30c0" opacity="0.9" filter="url(#cb)"/>
<circle cx="304.53" cy="432.34" r="2.19" fill="#6a30c0" opacity="0.9" filter="url(#cb)"/>
</g>
<rect x="263.40" y="395.60" width="47.80" height="47.50" fill="none" stroke="#111" stroke-width="1.3"/>
<clipPath id="c12"><rect x="314.30" y="395.60" width="48.70" height="47.50"/></clipPath>
<rect x="314.30" y="395.60" width="48.70" height="47.50" fill="#f8f7f7" stroke="none" stroke-width="1"/>
<g clip-path="url(#c12)">
<circle cx="329.44" cy="400.00" r="3.33" fill="#9890e0" opacity="0.85" stroke="#fff" stroke-width="0.25" stroke-opacity="0.6" filter="url(#cb)"/>
<circle cx="333.53" cy="402.56" r="3.33" fill="#9890e0" opacity="0.85" stroke="#fff" stroke-width="0.25" stroke-opacity="0.6" filter="url(#cb)"/>
<circle cx="336.09" cy="404.60" r="3.33" fill="#9890e0" opacity="0.85" stroke="#fff" stroke-width="0.25" stroke-opacity="0.6" filter="url(#cb)"/>
<circle cx="331.49" cy="408.70" r="3.33" fill="#9890e0" opacity="0.85" stroke="#fff" stroke-width="0.25" stroke-opacity="0.6" filter="url(#cb)"/>
<circle cx="325.35" cy="410.23" r="3.33" fill="#9890e0" opacity="0.85" stroke="#fff" stroke-width="0.25" stroke-opacity="0.6" filter="url(#cb)"/>
<circle cx="333.53" cy="408.18" r="3.33" fill="#9890e0" opacity="0.85" stroke="#fff" stroke-width="0.25" stroke-opacity="0.6" filter="url(#cb)"/>
<circle cx="320.23" cy="422.51" r="3.33" fill="#9890e0" opacity="0.85" stroke="#fff" stroke-width="0.25" stroke-opacity="0.6" filter="url(#cb)"/>
<circle cx="324.84" cy="420.46" r="3.33" fill="#9890e0" opacity="0.85" stroke="#fff" stroke-width="0.25" stroke-opacity="0.6" filter="url(#cb)"/>
<circle cx="328.93" cy="419.44" r="3.33" fill="#9890e0" opacity="0.85" stroke="#fff" stroke-width="0.25" stroke-opacity="0.6" filter="url(#cb)"/>
<circle cx="332.51" cy="422.00" r="3.33" fill="#9890e0" opacity="0.85" stroke="#fff" stroke-width="0.25" stroke-opacity="0.6" filter="url(#cb)"/>
<circle cx="336.60" cy="422.00" r="3.33" fill="#9890e0" opacity="0.85" stroke="#fff" stroke-width="0.25" stroke-opacity="0.6" filter="url(#cb)"/>
<circle cx="341.72" cy="423.02" r="3.33" fill="#9890e0" opacity="0.85" stroke="#fff" stroke-width="0.25" stroke-opacity="0.6" filter="url(#cb)"/>
<circle cx="322.28" cy="426.60" r="3.33" fill="#9890e0" opacity="0.85" stroke="#fff" stroke-width="0.25" stroke-opacity="0.6" filter="url(#cb)"/>
<circle cx="327.40" cy="426.60" r="3.33" fill="#9890e0" opacity="0.85" stroke="#fff" stroke-width="0.25" stroke-opacity="0.6" filter="url(#cb)"/>
<circle cx="320.75" cy="431.20" r="3.33" fill="#9890e0" opacity="0.85" stroke="#fff" stroke-width="0.25" stroke-opacity="0.6" filter="url(#cb)"/>
<circle cx="324.33" cy="432.74" r="3.33" fill="#9890e0" opacity="0.85" stroke="#fff" stroke-width="0.25" stroke-opacity="0.6" filter="url(#cb)"/>
<circle cx="327.40" cy="435.81" r="3.33" fill="#9890e0" opacity="0.85" stroke="#fff" stroke-width="0.25" stroke-opacity="0.6" filter="url(#cb)"/>
<circle cx="349.90" cy="428.65" r="3.33" fill="#9890e0" opacity="0.85" stroke="#fff" stroke-width="0.25" stroke-opacity="0.6" filter="url(#cb)"/>
<circle cx="355.02" cy="430.69" r="3.33" fill="#9890e0" opacity="0.85" stroke="#fff" stroke-width="0.25" stroke-opacity="0.6" filter="url(#cb)"/>
<circle cx="358.09" cy="432.74" r="3.33" fill="#9890e0" opacity="0.85" stroke="#fff" stroke-width="0.25" stroke-opacity="0.6" filter="url(#cb)"/>
<circle cx="329.43" cy="399.62" r="2.15" fill="#4c3cc8" opacity="0.9" filter="url(#cb)"/>
<circle cx="333.53" cy="402.52" r="1.80" fill="#4c3cc8" opacity="0.9" filter="url(#cb)"/>
<circle cx="335.80" cy="404.48" r="1.92" fill="#4c3cc8" opacity="0.9" filter="url(#cb)"/>
<circle cx="331.76" cy="408.30" r="1.92" fill="#4c3cc8" opacity="0.9" filter="url(#cb)"/>
<circle cx="325.62" cy="409.93" r="2.10" fill="#4c3cc8" opacity="0.9" filter="url(#cb)"/>
<circle cx="333.70" cy="408.51" r="2.17" fill="#4c3cc8" opacity="0.9" filter="url(#cb)"/>
<circle cx="320.13" cy="422.42" r="1.91" fill="#4c3cc8" opacity="0.9" filter="url(#cb)"/>
<circle cx="324.91" cy="420.35" r="2.19" fill="#4c3cc8" opacity="0.9" filter="url(#cb)"/>
<circle cx="328.75" cy="419.08" r="1.97" fill="#4c3cc8" opacity="0.9" filter="url(#cb)"/>
<circle cx="332.78" cy="421.82" r="1.84" fill="#4c3cc8" opacity="0.9" filter="url(#cb)"/>
<circle cx="336.40" cy="421.81" r="2.17" fill="#4c3cc8" opacity="0.9" filter="url(#cb)"/>
<circle cx="341.47" cy="422.92" r="2.00" fill="#4c3cc8" opacity="0.9" filter="url(#cb)"/>
<circle cx="322.59" cy="426.85" r="2.18" fill="#4c3cc8" opacity="0.9" filter="url(#cb)"/>
<circle cx="327.73" cy="426.95" r="2.05" fill="#4c3cc8" opacity="0.9" filter="url(#cb)"/>
<circle cx="320.92" cy="430.84" r="2.01" fill="#4c3cc8" opacity="0.9" filter="url(#cb)"/>
<circle cx="324.29" cy="432.94" r="2.09" fill="#4c3cc8" opacity="0.9" filter="url(#cb)"/>
<circle cx="327.22" cy="435.45" r="2.05" fill="#4c3cc8" opacity="0.9" filter="url(#cb)"/>
<circle cx="349.61" cy="428.62" r="2.17" fill="#4c3cc8" opacity="0.9" filter="url(#cb)"/>
<circle cx="354.86" cy="430.88" r="1.93" fill="#4c3cc8" opacity="0.9" filter="url(#cb)"/>
<circle cx="357.90" cy="432.86" r="2.19" fill="#4c3cc8" opacity="0.9" filter="url(#cb)"/>
</g>
<rect x="314.30" y="395.60" width="48.70" height="47.50" fill="none" stroke="#111" stroke-width="1.3"/>
<clipPath id="c20"><rect x="212.20" y="445.60" width="48.40" height="47.70"/></clipPath>
<rect x="212.20" y="445.60" width="48.40" height="47.70" fill="#f6f3f5" stroke="none" stroke-width="1"/>
<g clip-path="url(#c20)">
<circle cx="223.18" cy="452.51" r="5.02" fill="#d8a8ec" opacity="0.85" stroke="#fff" stroke-width="0.25" stroke-opacity="0.6" filter="url(#cb)"/>
<circle cx="219.11" cy="459.63" r="5.02" fill="#d8a8ec" opacity="0.85" stroke="#fff" stroke-width="0.25" stroke-opacity="0.6" filter="url(#cb)"/>
<circle cx="223.18" cy="460.65" r="5.02" fill="#d8a8ec" opacity="0.85" stroke="#fff" stroke-width="0.25" stroke-opacity="0.6" filter="url(#cb)"/>
<circle cx="222.16" cy="465.73" r="5.02" fill="#d8a8ec" opacity="0.85" stroke="#fff" stroke-width="0.25" stroke-opacity="0.6" filter="url(#cb)"/>
<circle cx="226.74" cy="472.34" r="5.02" fill="#d8a8ec" opacity="0.85" stroke="#fff" stroke-width="0.25" stroke-opacity="0.6" filter="url(#cb)"/>
<circle cx="250.13" cy="475.90" r="5.02" fill="#d8a8ec" opacity="0.85" stroke="#fff" stroke-width="0.25" stroke-opacity="0.6" filter="url(#cb)"/>
<circle cx="250.64" cy="482.00" r="5.02" fill="#d8a8ec" opacity="0.85" stroke="#fff" stroke-width="0.25" stroke-opacity="0.6" filter="url(#cb)"/>
<circle cx="238.94" cy="487.09" r="5.02" fill="#d8a8ec" opacity="0.85" stroke="#fff" stroke-width="0.25" stroke-opacity="0.6" filter="url(#cb)"/>
<circle cx="254.70" cy="491.15" r="5.02" fill="#d8a8ec" opacity="0.85" stroke="#fff" stroke-width="0.25" stroke-opacity="0.6" filter="url(#cb)"/>
<circle cx="223.23" cy="452.43" r="2.67" fill="#8838c0" opacity="0.9" filter="url(#cb)"/>
<circle cx="218.84" cy="459.40" r="2.60" fill="#8838c0" opacity="0.9" filter="url(#cb)"/>
<circle cx="223.18" cy="460.42" r="3.01" fill="#8838c0" opacity="0.9" filter="url(#cb)"/>
<circle cx="222.56" cy="465.69" r="3.01" fill="#8838c0" opacity="0.9" filter="url(#cb)"/>
<circle cx="226.49" cy="472.01" r="2.58" fill="#8838c0" opacity="0.9" filter="url(#cb)"/>
<circle cx="249.80" cy="475.69" r="2.69" fill="#8838c0" opacity="0.9" filter="url(#cb)"/>
<circle cx="250.69" cy="482.31" r="2.65" fill="#8838c0" opacity="0.9" filter="url(#cb)"/>
<circle cx="238.87" cy="487.02" r="2.92" fill="#8838c0" opacity="0.9" filter="url(#cb)"/>
<circle cx="254.60" cy="491.02" r="2.80" fill="#8838c0" opacity="0.9" filter="url(#cb)"/>
</g>
<rect x="212.20" y="445.60" width="48.40" height="47.70" fill="none" stroke="#111" stroke-width="1.3"/>
<clipPath id="c21"><rect x="263.40" y="445.60" width="47.80" height="47.70"/></clipPath>
<rect x="263.40" y="445.60" width="47.80" height="47.70" fill="#f6f3f5" stroke="none" stroke-width="1"/>
<g clip-path="url(#c21)">
<circle cx="283.28" cy="449.92" r="4.37" fill="#b8a2e8" opacity="0.85" stroke="#fff" stroke-width="0.25" stroke-opacity="0.6" filter="url(#cb)"/>
<circle cx="279.27" cy="454.44" r="4.37" fill="#b8a2e8" opacity="0.85" stroke="#fff" stroke-width="0.25" stroke-opacity="0.6" filter="url(#cb)"/>
<circle cx="286.30" cy="454.94" r="4.37" fill="#b8a2e8" opacity="0.85" stroke="#fff" stroke-width="0.25" stroke-opacity="0.6" filter="url(#cb)"/>
<circle cx="281.27" cy="460.96" r="4.37" fill="#b8a2e8" opacity="0.85" stroke="#fff" stroke-width="0.25" stroke-opacity="0.6" filter="url(#cb)"/>
<circle cx="287.30" cy="459.96" r="4.37" fill="#b8a2e8" opacity="0.85" stroke="#fff" stroke-width="0.25" stroke-opacity="0.6" filter="url(#cb)"/>
<circle cx="299.35" cy="466.99" r="4.37" fill="#b8a2e8" opacity="0.85" stroke="#fff" stroke-width="0.25" stroke-opacity="0.6" filter="url(#cb)"/>
<circle cx="298.35" cy="472.51" r="4.37" fill="#b8a2e8" opacity="0.85" stroke="#fff" stroke-width="0.25" stroke-opacity="0.6" filter="url(#cb)"/>
<circle cx="300.35" cy="476.53" r="4.37" fill="#b8a2e8" opacity="0.85" stroke="#fff" stroke-width="0.25" stroke-opacity="0.6" filter="url(#cb)"/>
<circle cx="275.25" cy="482.05" r="4.37" fill="#b8a2e8" opacity="0.85" stroke="#fff" stroke-width="0.25" stroke-opacity="0.6" filter="url(#cb)"/>
<circle cx="278.76" cy="485.57" r="4.37" fill="#b8a2e8" opacity="0.85" stroke="#fff" stroke-width="0.25" stroke-opacity="0.6" filter="url(#cb)"/>
<circle cx="283.79" cy="479.54" r="4.37" fill="#b8a2e8" opacity="0.85" stroke="#fff" stroke-width="0.25" stroke-opacity="0.6" filter="url(#cb)"/>
<circle cx="293.33" cy="483.06" r="4.37" fill="#b8a2e8" opacity="0.85" stroke="#fff" stroke-width="0.25" stroke-opacity="0.6" filter="url(#cb)"/>
<circle cx="296.84" cy="484.56" r="4.37" fill="#b8a2e8" opacity="0.85" stroke="#fff" stroke-width="0.25" stroke-opacity="0.6" filter="url(#cb)"/>
<circle cx="294.33" cy="489.08" r="4.37" fill="#b8a2e8" opacity="0.85" stroke="#fff" stroke-width="0.25" stroke-opacity="0.6" filter="url(#cb)"/>
<circle cx="300.35" cy="484.56" r="4.37" fill="#b8a2e8" opacity="0.85" stroke="#fff" stroke-width="0.25" stroke-opacity="0.6" filter="url(#cb)"/>
<circle cx="283.11" cy="450.29" r="2.24" fill="#6a44c8" opacity="0.9" filter="url(#cb)"/>
<circle cx="279.27" cy="454.54" r="2.27" fill="#6a44c8" opacity="0.9" filter="url(#cb)"/>
<circle cx="286.07" cy="454.76" r="2.64" fill="#6a44c8" opacity="0.9" filter="url(#cb)"/>
<circle cx="281.19" cy="460.92" r="2.33" fill="#6a44c8" opacity="0.9" filter="url(#cb)"/>
<circle cx="287.58" cy="460.26" r="2.68" fill="#6a44c8" opacity="0.9" filter="url(#cb)"/>
<circle cx="298.98" cy="467.16" r="2.22" fill="#6a44c8" opacity="0.9" filter="url(#cb)"/>
<circle cx="298.32" cy="472.58" r="2.65" fill="#6a44c8" opacity="0.9" filter="url(#cb)"/>
<circle cx="300.27" cy="476.87" r="2.21" fill="#6a44c8" opacity="0.9" filter="url(#cb)"/>
<circle cx="275.53" cy="482.43" r="2.62" fill="#6a44c8" opacity="0.9" filter="url(#cb)"/>
<circle cx="278.45" cy="485.29" r="2.33" fill="#6a44c8" opacity="0.9" filter="url(#cb)"/>
<circle cx="283.93" cy="479.90" r="2.47" fill="#6a44c8" opacity="0.9" filter="url(#cb)"/>
<circle cx="293.44" cy="483.27" r="2.57" fill="#6a44c8" opacity="0.9" filter="url(#cb)"/>
<circle cx="296.88" cy="484.19" r="2.44" fill="#6a44c8" opacity="0.9" filter="url(#cb)"/>
<circle cx="294.12" cy="489.42" r="2.60" fill="#6a44c8" opacity="0.9" filter="url(#cb)"/>
<circle cx="300.20" cy="484.27" r="2.53" fill="#6a44c8" opacity="0.9" filter="url(#cb)"/>
</g>
<rect x="263.40" y="445.60" width="47.80" height="47.70" fill="none" stroke="#111" stroke-width="1.3"/>
<clipPath id="c22"><rect x="314.30" y="445.60" width="48.70" height="47.70"/></clipPath>
<rect x="314.30" y="445.60" width="48.70" height="47.70" fill="#f6f3f5" stroke="none" stroke-width="1"/>
<g clip-path="url(#c22)">
<circle cx="324.33" cy="450.00" r="4.06" fill="#b89ce4" opacity="0.85" stroke="#fff" stroke-width="0.25" stroke-opacity="0.6" filter="url(#cb)"/>
<circle cx="321.26" cy="456.14" r="4.06" fill="#b89ce4" opacity="0.85" stroke="#fff" stroke-width="0.25" stroke-opacity="0.6" filter="url(#cb)"/>
<circle cx="330.47" cy="462.28" r="4.06" fill="#b89ce4" opacity="0.85" stroke="#fff" stroke-width="0.25" stroke-opacity="0.6" filter="url(#cb)"/>
<circle cx="327.91" cy="468.42" r="4.06" fill="#b89ce4" opacity="0.85" stroke="#fff" stroke-width="0.25" stroke-opacity="0.6" filter="url(#cb)"/>
<circle cx="319.21" cy="472.00" r="4.06" fill="#b89ce4" opacity="0.85" stroke="#fff" stroke-width="0.25" stroke-opacity="0.6" filter="url(#cb)"/>
<circle cx="323.81" cy="475.07" r="4.06" fill="#b89ce4" opacity="0.85" stroke="#fff" stroke-width="0.25" stroke-opacity="0.6" filter="url(#cb)"/>
<circle cx="334.56" cy="475.07" r="4.06" fill="#b89ce4" opacity="0.85" stroke="#fff" stroke-width="0.25" stroke-opacity="0.6" filter="url(#cb)"/>
<circle cx="349.90" cy="462.79" r="4.06" fill="#b89ce4" opacity="0.85" stroke="#fff" stroke-width="0.25" stroke-opacity="0.6" filter="url(#cb)"/>
<circle cx="354.00" cy="471.48" r="4.06" fill="#b89ce4" opacity="0.85" stroke="#fff" stroke-width="0.25" stroke-opacity="0.6" filter="url(#cb)"/>
<circle cx="358.60" cy="476.09" r="4.06" fill="#b89ce4" opacity="0.85" stroke="#fff" stroke-width="0.25" stroke-opacity="0.6" filter="url(#cb)"/>
<circle cx="357.07" cy="481.72" r="4.06" fill="#b89ce4" opacity="0.85" stroke="#fff" stroke-width="0.25" stroke-opacity="0.6" filter="url(#cb)"/>
<circle cx="356.04" cy="486.32" r="4.06" fill="#b89ce4" opacity="0.85" stroke="#fff" stroke-width="0.25" stroke-opacity="0.6" filter="url(#cb)"/>
<circle cx="318.19" cy="490.41" r="4.06" fill="#b89ce4" opacity="0.85" stroke="#fff" stroke-width="0.25" stroke-opacity="0.6" filter="url(#cb)"/>
<circle cx="332.51" cy="488.37" r="4.06" fill="#b89ce4" opacity="0.85" stroke="#fff" stroke-width="0.25" stroke-opacity="0.6" filter="url(#cb)"/>
<circle cx="340.70" cy="484.27" r="4.06" fill="#b89ce4" opacity="0.85" stroke="#fff" stroke-width="0.25" stroke-opacity="0.6" filter="url(#cb)"/>
<circle cx="344.79" cy="489.39" r="4.06" fill="#b89ce4" opacity="0.85" stroke="#fff" stroke-width="0.25" stroke-opacity="0.6" filter="url(#cb)"/>
<circle cx="349.90" cy="489.90" r="4.06" fill="#b89ce4" opacity="0.85" stroke="#fff" stroke-width="0.25" stroke-opacity="0.6" filter="url(#cb)"/>
<circle cx="324.44" cy="450.16" r="2.17" fill="#6a3cc4" opacity="0.9" filter="url(#cb)"/>
<circle cx="320.91" cy="456.16" r="2.11" fill="#6a3cc4" opacity="0.9" filter="url(#cb)"/>
<circle cx="330.38" cy="462.06" r="2.32" fill="#6a3cc4" opacity="0.9" filter="url(#cb)"/>
<circle cx="327.52" cy="468.26" r="2.33" fill="#6a3cc4" opacity="0.9" filter="url(#cb)"/>
<circle cx="319.58" cy="472.11" r="2.27" fill="#6a3cc4" opacity="0.9" filter="url(#cb)"/>
<circle cx="323.80" cy="474.85" r="2.46" fill="#6a3cc4" opacity="0.9" filter="url(#cb)"/>
<circle cx="334.93" cy="475.23" r="2.17" fill="#6a3cc4" opacity="0.9" filter="url(#cb)"/>
<circle cx="349.52" cy="462.79" r="2.20" fill="#6a3cc4" opacity="0.9" filter="url(#cb)"/>
<circle cx="353.93" cy="471.29" r="2.36" fill="#6a3cc4" opacity="0.9" filter="url(#cb)"/>
<circle cx="358.94" cy="475.87" r="2.36" fill="#6a3cc4" opacity="0.9" filter="url(#cb)"/>
<circle cx="356.94" cy="481.65" r="2.07" fill="#6a3cc4" opacity="0.9" filter="url(#cb)"/>
<circle cx="355.80" cy="486.56" r="2.37" fill="#6a3cc4" opacity="0.9" filter="url(#cb)"/>
<circle cx="318.19" cy="490.18" r="2.39" fill="#6a3cc4" opacity="0.9" filter="url(#cb)"/>
<circle cx="332.36" cy="488.62" r="2.50" fill="#6a3cc4" opacity="0.9" filter="url(#cb)"/>
<circle cx="340.47" cy="484.48" r="2.16" fill="#6a3cc4" opacity="0.9" filter="url(#cb)"/>
<circle cx="345.15" cy="489.39" r="2.19" fill="#6a3cc4" opacity="0.9" filter="url(#cb)"/>
<circle cx="349.68" cy="489.83" r="2.14" fill="#6a3cc4" opacity="0.9" filter="url(#cb)"/>
</g>
<rect x="314.30" y="445.60" width="48.70" height="47.70" fill="none" stroke="#111" stroke-width="1.3"/>
</svg>
</body></html>
